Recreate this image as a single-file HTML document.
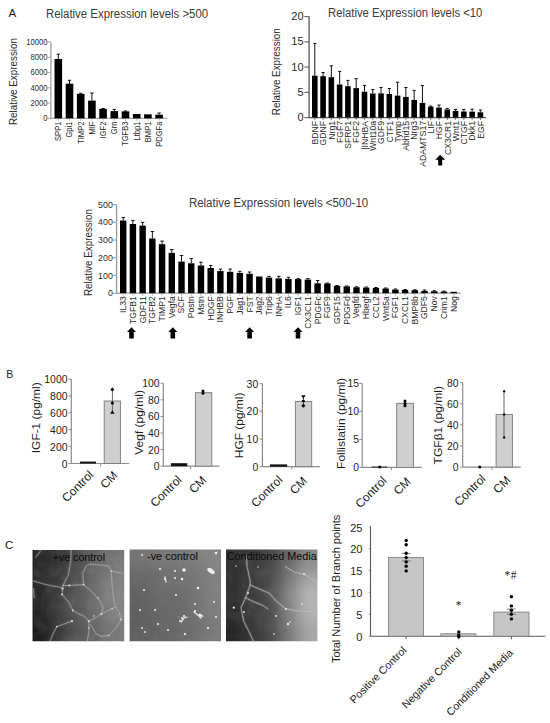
<!DOCTYPE html>
<html><head><meta charset="utf-8"><title>Figure</title>
<style>
html,body{margin:0;padding:0;background:#fff;}
body{width:550px;height:723px;overflow:hidden;position:relative;}
svg{position:absolute;left:0;top:0;display:block;}
text{font-family:"Liberation Sans", sans-serif;}
</style></head><body>
<svg width="550" height="723" viewBox="0 0 550 723">
<rect width="550" height="723" fill="#fff"/>
<text id="A" x="8.40" y="16.60" font-size="11.5" fill="#222" text-anchor="start">A</text>
<line x1="50.90" y1="41.90" x2="50.90" y2="118.40" stroke="#a8a8a8" stroke-width="1.4"/>
<line x1="50.20" y1="118.40" x2="166.90" y2="118.40" stroke="#a8a8a8" stroke-width="1.4"/>
<line x1="47.50" y1="118.40" x2="50.90" y2="118.40" stroke="#a8a8a8" stroke-width="1"/>
<text x="47.40" y="121.31" font-size="8.3" fill="#2a2a2a" text-anchor="end" textLength="4.25" lengthAdjust="spacingAndGlyphs">0</text>
<line x1="47.50" y1="103.10" x2="50.90" y2="103.10" stroke="#a8a8a8" stroke-width="1"/>
<text x="47.40" y="106.01" font-size="8.3" fill="#2a2a2a" text-anchor="end" textLength="16.99" lengthAdjust="spacingAndGlyphs">2000</text>
<line x1="47.50" y1="87.80" x2="50.90" y2="87.80" stroke="#a8a8a8" stroke-width="1"/>
<text x="47.40" y="90.71" font-size="8.3" fill="#2a2a2a" text-anchor="end" textLength="16.99" lengthAdjust="spacingAndGlyphs">4000</text>
<line x1="47.50" y1="72.50" x2="50.90" y2="72.50" stroke="#a8a8a8" stroke-width="1"/>
<text x="47.40" y="75.41" font-size="8.3" fill="#2a2a2a" text-anchor="end" textLength="16.99" lengthAdjust="spacingAndGlyphs">6000</text>
<line x1="47.50" y1="57.20" x2="50.90" y2="57.20" stroke="#a8a8a8" stroke-width="1"/>
<text x="47.40" y="60.11" font-size="8.3" fill="#2a2a2a" text-anchor="end" textLength="16.99" lengthAdjust="spacingAndGlyphs">8000</text>
<line x1="47.50" y1="41.90" x2="50.90" y2="41.90" stroke="#a8a8a8" stroke-width="1"/>
<text x="47.40" y="44.81" font-size="8.3" fill="#2a2a2a" text-anchor="end" textLength="21.23" lengthAdjust="spacingAndGlyphs">10000</text>
<line x1="58.30" y1="54.20" x2="58.30" y2="59.00" stroke="#111" stroke-width="1"/>
<line x1="56.60" y1="54.20" x2="60.00" y2="54.20" stroke="#111" stroke-width="1"/>
<rect x="54.50" y="59.00" width="7.60" height="59.40" fill="#000"/>
<line x1="58.30" y1="118.40" x2="58.30" y2="120.90" stroke="#a8a8a8" stroke-width="0.8"/>
<line x1="69.50" y1="80.30" x2="69.50" y2="83.70" stroke="#111" stroke-width="1"/>
<line x1="67.80" y1="80.30" x2="71.20" y2="80.30" stroke="#111" stroke-width="1"/>
<rect x="65.70" y="83.70" width="7.60" height="34.70" fill="#000"/>
<line x1="69.50" y1="118.40" x2="69.50" y2="120.90" stroke="#a8a8a8" stroke-width="0.8"/>
<line x1="80.70" y1="93.30" x2="80.70" y2="93.90" stroke="#111" stroke-width="1"/>
<line x1="79.00" y1="93.30" x2="82.40" y2="93.30" stroke="#111" stroke-width="1"/>
<rect x="76.90" y="93.90" width="7.60" height="24.50" fill="#000"/>
<line x1="80.70" y1="118.40" x2="80.70" y2="120.90" stroke="#a8a8a8" stroke-width="0.8"/>
<line x1="91.90" y1="93.00" x2="91.90" y2="100.60" stroke="#111" stroke-width="1"/>
<line x1="90.20" y1="93.00" x2="93.60" y2="93.00" stroke="#111" stroke-width="1"/>
<rect x="88.10" y="100.60" width="7.60" height="17.80" fill="#000"/>
<line x1="91.90" y1="118.40" x2="91.90" y2="120.90" stroke="#a8a8a8" stroke-width="0.8"/>
<line x1="103.10" y1="108.50" x2="103.10" y2="108.90" stroke="#111" stroke-width="1"/>
<line x1="101.40" y1="108.50" x2="104.80" y2="108.50" stroke="#111" stroke-width="1"/>
<rect x="99.30" y="108.90" width="7.60" height="9.50" fill="#000"/>
<line x1="103.10" y1="118.40" x2="103.10" y2="120.90" stroke="#a8a8a8" stroke-width="0.8"/>
<line x1="114.30" y1="109.40" x2="114.30" y2="111.10" stroke="#111" stroke-width="1"/>
<line x1="112.60" y1="109.40" x2="116.00" y2="109.40" stroke="#111" stroke-width="1"/>
<rect x="110.50" y="111.10" width="7.60" height="7.30" fill="#000"/>
<line x1="114.30" y1="118.40" x2="114.30" y2="120.90" stroke="#a8a8a8" stroke-width="0.8"/>
<line x1="125.50" y1="111.00" x2="125.50" y2="111.40" stroke="#111" stroke-width="1"/>
<line x1="123.80" y1="111.00" x2="127.20" y2="111.00" stroke="#111" stroke-width="1"/>
<rect x="121.70" y="111.40" width="7.60" height="7.00" fill="#000"/>
<line x1="125.50" y1="118.40" x2="125.50" y2="120.90" stroke="#a8a8a8" stroke-width="0.8"/>
<rect x="132.90" y="114.00" width="7.60" height="4.40" fill="#000"/>
<line x1="136.70" y1="118.40" x2="136.70" y2="120.90" stroke="#a8a8a8" stroke-width="0.8"/>
<rect x="144.10" y="114.30" width="7.60" height="4.10" fill="#000"/>
<line x1="147.90" y1="118.40" x2="147.90" y2="120.90" stroke="#a8a8a8" stroke-width="0.8"/>
<line x1="159.10" y1="113.00" x2="159.10" y2="114.70" stroke="#111" stroke-width="1"/>
<line x1="157.40" y1="113.00" x2="160.80" y2="113.00" stroke="#111" stroke-width="1"/>
<rect x="155.30" y="114.70" width="7.60" height="3.70" fill="#000"/>
<line x1="159.10" y1="118.40" x2="159.10" y2="120.90" stroke="#a8a8a8" stroke-width="0.8"/>
<text transform="translate(61.19,121.60) rotate(-90)" font-size="8.4" fill="#2a2a2a" text-anchor="end" textLength="19.33" lengthAdjust="spacingAndGlyphs">SPP1</text>
<text transform="translate(72.39,121.60) rotate(-90)" font-size="8.4" fill="#2a2a2a" text-anchor="end" textLength="15.97" lengthAdjust="spacingAndGlyphs">Gpi1</text>
<text transform="translate(83.59,121.60) rotate(-90)" font-size="8.4" fill="#2a2a2a" text-anchor="end" textLength="22.26" lengthAdjust="spacingAndGlyphs">TIMP2</text>
<text transform="translate(94.79,121.60) rotate(-90)" font-size="8.4" fill="#2a2a2a" text-anchor="end" textLength="13.02" lengthAdjust="spacingAndGlyphs">MIF</text>
<text transform="translate(105.99,121.60) rotate(-90)" font-size="8.4" fill="#2a2a2a" text-anchor="end" textLength="16.80" lengthAdjust="spacingAndGlyphs">IGF2</text>
<text transform="translate(117.19,121.60) rotate(-90)" font-size="8.4" fill="#2a2a2a" text-anchor="end" textLength="12.60" lengthAdjust="spacingAndGlyphs">Grn</text>
<text transform="translate(128.39,121.60) rotate(-90)" font-size="8.4" fill="#2a2a2a" text-anchor="end" textLength="24.36" lengthAdjust="spacingAndGlyphs">TGFB3</text>
<text transform="translate(139.59,121.60) rotate(-90)" font-size="8.4" fill="#2a2a2a" text-anchor="end" textLength="18.92" lengthAdjust="spacingAndGlyphs">Ltbp1</text>
<text transform="translate(150.79,121.60) rotate(-90)" font-size="8.4" fill="#2a2a2a" text-anchor="end" textLength="20.59" lengthAdjust="spacingAndGlyphs">BMP1</text>
<text transform="translate(161.99,121.60) rotate(-90)" font-size="8.4" fill="#2a2a2a" text-anchor="end" textLength="25.20" lengthAdjust="spacingAndGlyphs">PDGFa</text>
<text id="title1" x="45.90" y="18.00" font-size="12" fill="#3a3a3a" text-anchor="start" textLength="162.30" lengthAdjust="spacingAndGlyphs">Relative Expression levels &gt;500</text>
<text id="ylab1" transform="translate(17.10,81.50) rotate(-90)" font-size="10.4" fill="#2a2a2a" text-anchor="middle" textLength="87.00" lengthAdjust="spacingAndGlyphs">Relative Expression</text>
<line x1="309.10" y1="16.60" x2="309.10" y2="117.60" stroke="#555" stroke-width="1.3"/>
<line x1="308.45" y1="117.60" x2="486.00" y2="117.60" stroke="#555" stroke-width="1.3"/>
<line x1="304.30" y1="117.60" x2="309.10" y2="117.60" stroke="#555" stroke-width="1"/>
<text x="303.60" y="121.16" font-size="10.8" fill="#2a2a2a" text-anchor="end" textLength="6.13" lengthAdjust="spacingAndGlyphs">0</text>
<line x1="304.30" y1="92.35" x2="309.10" y2="92.35" stroke="#555" stroke-width="1"/>
<text x="303.60" y="95.91" font-size="10.8" fill="#2a2a2a" text-anchor="end" textLength="6.13" lengthAdjust="spacingAndGlyphs">5</text>
<line x1="304.30" y1="67.10" x2="309.10" y2="67.10" stroke="#555" stroke-width="1"/>
<text x="303.60" y="70.66" font-size="10.8" fill="#2a2a2a" text-anchor="end" textLength="12.25" lengthAdjust="spacingAndGlyphs">10</text>
<line x1="304.30" y1="41.85" x2="309.10" y2="41.85" stroke="#555" stroke-width="1"/>
<text x="303.60" y="45.41" font-size="10.8" fill="#2a2a2a" text-anchor="end" textLength="12.25" lengthAdjust="spacingAndGlyphs">15</text>
<line x1="304.30" y1="16.60" x2="309.10" y2="16.60" stroke="#555" stroke-width="1"/>
<text x="303.60" y="20.16" font-size="10.8" fill="#2a2a2a" text-anchor="end" textLength="12.25" lengthAdjust="spacingAndGlyphs">20</text>
<line x1="314.80" y1="43.40" x2="314.80" y2="75.70" stroke="#111" stroke-width="1"/>
<line x1="313.20" y1="43.40" x2="316.40" y2="43.40" stroke="#111" stroke-width="1"/>
<rect x="312.00" y="75.70" width="5.60" height="41.90" fill="#000"/>
<line x1="314.80" y1="117.60" x2="314.80" y2="120.10" stroke="#555" stroke-width="0.8"/>
<line x1="323.08" y1="72.50" x2="323.08" y2="76.20" stroke="#111" stroke-width="1"/>
<line x1="321.48" y1="72.50" x2="324.68" y2="72.50" stroke="#111" stroke-width="1"/>
<rect x="320.28" y="76.20" width="5.60" height="41.40" fill="#000"/>
<line x1="323.08" y1="117.60" x2="323.08" y2="120.10" stroke="#555" stroke-width="0.8"/>
<line x1="331.36" y1="65.80" x2="331.36" y2="77.20" stroke="#111" stroke-width="1"/>
<line x1="329.76" y1="65.80" x2="332.96" y2="65.80" stroke="#111" stroke-width="1"/>
<rect x="328.56" y="77.20" width="5.60" height="40.40" fill="#000"/>
<line x1="331.36" y1="117.60" x2="331.36" y2="120.10" stroke="#555" stroke-width="0.8"/>
<line x1="339.64" y1="71.40" x2="339.64" y2="84.50" stroke="#111" stroke-width="1"/>
<line x1="338.04" y1="71.40" x2="341.24" y2="71.40" stroke="#111" stroke-width="1"/>
<rect x="336.84" y="84.50" width="5.60" height="33.10" fill="#000"/>
<line x1="339.64" y1="117.60" x2="339.64" y2="120.10" stroke="#555" stroke-width="0.8"/>
<line x1="347.92" y1="80.40" x2="347.92" y2="86.20" stroke="#111" stroke-width="1"/>
<line x1="346.32" y1="80.40" x2="349.52" y2="80.40" stroke="#111" stroke-width="1"/>
<rect x="345.12" y="86.20" width="5.60" height="31.40" fill="#000"/>
<line x1="347.92" y1="117.60" x2="347.92" y2="120.10" stroke="#555" stroke-width="0.8"/>
<line x1="356.20" y1="78.60" x2="356.20" y2="88.10" stroke="#111" stroke-width="1"/>
<line x1="354.60" y1="78.60" x2="357.80" y2="78.60" stroke="#111" stroke-width="1"/>
<rect x="353.40" y="88.10" width="5.60" height="29.50" fill="#000"/>
<line x1="356.20" y1="117.60" x2="356.20" y2="120.10" stroke="#555" stroke-width="0.8"/>
<line x1="364.48" y1="85.30" x2="364.48" y2="91.70" stroke="#111" stroke-width="1"/>
<line x1="362.88" y1="85.30" x2="366.08" y2="85.30" stroke="#111" stroke-width="1"/>
<rect x="361.68" y="91.70" width="5.60" height="25.90" fill="#000"/>
<line x1="364.48" y1="117.60" x2="364.48" y2="120.10" stroke="#555" stroke-width="0.8"/>
<line x1="372.76" y1="89.50" x2="372.76" y2="93.50" stroke="#111" stroke-width="1"/>
<line x1="371.16" y1="89.50" x2="374.36" y2="89.50" stroke="#111" stroke-width="1"/>
<rect x="369.96" y="93.50" width="5.60" height="24.10" fill="#000"/>
<line x1="372.76" y1="117.60" x2="372.76" y2="120.10" stroke="#555" stroke-width="0.8"/>
<line x1="381.04" y1="87.50" x2="381.04" y2="93.40" stroke="#111" stroke-width="1"/>
<line x1="379.44" y1="87.50" x2="382.64" y2="87.50" stroke="#111" stroke-width="1"/>
<rect x="378.24" y="93.40" width="5.60" height="24.20" fill="#000"/>
<line x1="381.04" y1="117.60" x2="381.04" y2="120.10" stroke="#555" stroke-width="0.8"/>
<line x1="389.32" y1="88.50" x2="389.32" y2="94.00" stroke="#111" stroke-width="1"/>
<line x1="387.72" y1="88.50" x2="390.92" y2="88.50" stroke="#111" stroke-width="1"/>
<rect x="386.52" y="94.00" width="5.60" height="23.60" fill="#000"/>
<line x1="389.32" y1="117.60" x2="389.32" y2="120.10" stroke="#555" stroke-width="0.8"/>
<line x1="397.60" y1="82.20" x2="397.60" y2="95.60" stroke="#111" stroke-width="1"/>
<line x1="396.00" y1="82.20" x2="399.20" y2="82.20" stroke="#111" stroke-width="1"/>
<rect x="394.80" y="95.60" width="5.60" height="22.00" fill="#000"/>
<line x1="397.60" y1="117.60" x2="397.60" y2="120.10" stroke="#555" stroke-width="0.8"/>
<line x1="405.88" y1="87.50" x2="405.88" y2="96.90" stroke="#111" stroke-width="1"/>
<line x1="404.28" y1="87.50" x2="407.48" y2="87.50" stroke="#111" stroke-width="1"/>
<rect x="403.08" y="96.90" width="5.60" height="20.70" fill="#000"/>
<line x1="405.88" y1="117.60" x2="405.88" y2="120.10" stroke="#555" stroke-width="0.8"/>
<line x1="414.16" y1="90.40" x2="414.16" y2="100.00" stroke="#111" stroke-width="1"/>
<line x1="412.56" y1="90.40" x2="415.76" y2="90.40" stroke="#111" stroke-width="1"/>
<rect x="411.36" y="100.00" width="5.60" height="17.60" fill="#000"/>
<line x1="414.16" y1="117.60" x2="414.16" y2="120.10" stroke="#555" stroke-width="0.8"/>
<line x1="422.44" y1="85.60" x2="422.44" y2="102.90" stroke="#111" stroke-width="1"/>
<line x1="420.84" y1="85.60" x2="424.04" y2="85.60" stroke="#111" stroke-width="1"/>
<rect x="419.64" y="102.90" width="5.60" height="14.70" fill="#000"/>
<line x1="422.44" y1="117.60" x2="422.44" y2="120.10" stroke="#555" stroke-width="0.8"/>
<line x1="430.72" y1="106.00" x2="430.72" y2="106.70" stroke="#111" stroke-width="1"/>
<line x1="429.12" y1="106.00" x2="432.32" y2="106.00" stroke="#111" stroke-width="1"/>
<rect x="427.92" y="106.70" width="5.60" height="10.90" fill="#000"/>
<line x1="430.72" y1="117.60" x2="430.72" y2="120.10" stroke="#555" stroke-width="0.8"/>
<line x1="439.00" y1="105.10" x2="439.00" y2="107.60" stroke="#111" stroke-width="1"/>
<line x1="437.40" y1="105.10" x2="440.60" y2="105.10" stroke="#111" stroke-width="1"/>
<rect x="436.20" y="107.60" width="5.60" height="10.00" fill="#000"/>
<line x1="439.00" y1="117.60" x2="439.00" y2="120.10" stroke="#555" stroke-width="0.8"/>
<line x1="447.28" y1="108.40" x2="447.28" y2="109.50" stroke="#111" stroke-width="1"/>
<line x1="445.68" y1="108.40" x2="448.88" y2="108.40" stroke="#111" stroke-width="1"/>
<rect x="444.48" y="109.50" width="5.60" height="8.10" fill="#000"/>
<line x1="447.28" y1="117.60" x2="447.28" y2="120.10" stroke="#555" stroke-width="0.8"/>
<line x1="455.56" y1="109.50" x2="455.56" y2="110.90" stroke="#111" stroke-width="1"/>
<line x1="453.96" y1="109.50" x2="457.16" y2="109.50" stroke="#111" stroke-width="1"/>
<rect x="452.76" y="110.90" width="5.60" height="6.70" fill="#000"/>
<line x1="455.56" y1="117.60" x2="455.56" y2="120.10" stroke="#555" stroke-width="0.8"/>
<line x1="463.84" y1="109.40" x2="463.84" y2="111.50" stroke="#111" stroke-width="1"/>
<line x1="462.24" y1="109.40" x2="465.44" y2="109.40" stroke="#111" stroke-width="1"/>
<rect x="461.04" y="111.50" width="5.60" height="6.10" fill="#000"/>
<line x1="463.84" y1="117.60" x2="463.84" y2="120.10" stroke="#555" stroke-width="0.8"/>
<line x1="472.12" y1="109.20" x2="472.12" y2="111.70" stroke="#111" stroke-width="1"/>
<line x1="470.52" y1="109.20" x2="473.72" y2="109.20" stroke="#111" stroke-width="1"/>
<rect x="469.32" y="111.70" width="5.60" height="5.90" fill="#000"/>
<line x1="472.12" y1="117.60" x2="472.12" y2="120.10" stroke="#555" stroke-width="0.8"/>
<line x1="480.40" y1="110.00" x2="480.40" y2="112.30" stroke="#111" stroke-width="1"/>
<line x1="478.80" y1="110.00" x2="482.00" y2="110.00" stroke="#111" stroke-width="1"/>
<rect x="477.60" y="112.30" width="5.60" height="5.30" fill="#000"/>
<line x1="480.40" y1="117.60" x2="480.40" y2="120.10" stroke="#555" stroke-width="0.8"/>
<text transform="translate(318.03,121.00) rotate(-90)" font-size="9.4" fill="#2a2a2a" text-anchor="end" textLength="23.54" lengthAdjust="spacingAndGlyphs">BDNF</text>
<text transform="translate(326.31,121.00) rotate(-90)" font-size="9.4" fill="#2a2a2a" text-anchor="end" textLength="24.50" lengthAdjust="spacingAndGlyphs">GDNF</text>
<text transform="translate(334.59,121.00) rotate(-90)" font-size="9.4" fill="#2a2a2a" text-anchor="end" textLength="18.74" lengthAdjust="spacingAndGlyphs">Nrg1</text>
<text transform="translate(342.87,121.00) rotate(-90)" font-size="9.4" fill="#2a2a2a" text-anchor="end" textLength="22.10" lengthAdjust="spacingAndGlyphs">FGF7</text>
<text transform="translate(351.15,121.00) rotate(-90)" font-size="9.4" fill="#2a2a2a" text-anchor="end" textLength="27.87" lengthAdjust="spacingAndGlyphs">SFRP1</text>
<text transform="translate(359.43,121.00) rotate(-90)" font-size="9.4" fill="#2a2a2a" text-anchor="end" textLength="22.10" lengthAdjust="spacingAndGlyphs">FGF2</text>
<text transform="translate(367.71,121.00) rotate(-90)" font-size="9.4" fill="#2a2a2a" text-anchor="end" textLength="28.68" lengthAdjust="spacingAndGlyphs">|INHBA</text>
<text transform="translate(375.99,121.00) rotate(-90)" font-size="9.4" fill="#2a2a2a" text-anchor="end" textLength="29.80" lengthAdjust="spacingAndGlyphs">Wnt10a</text>
<text transform="translate(384.27,121.00) rotate(-90)" font-size="9.4" fill="#2a2a2a" text-anchor="end" textLength="23.06" lengthAdjust="spacingAndGlyphs">GDF9</text>
<text transform="translate(392.55,121.00) rotate(-90)" font-size="9.4" fill="#2a2a2a" text-anchor="end" textLength="21.62" lengthAdjust="spacingAndGlyphs">CTF1</text>
<text transform="translate(400.83,121.00) rotate(-90)" font-size="9.4" fill="#2a2a2a" text-anchor="end" textLength="21.62" lengthAdjust="spacingAndGlyphs">Tymp</text>
<text transform="translate(409.11,121.00) rotate(-90)" font-size="9.4" fill="#2a2a2a" text-anchor="end" textLength="29.82" lengthAdjust="spacingAndGlyphs">Abhd15</text>
<text transform="translate(417.39,121.00) rotate(-90)" font-size="9.4" fill="#2a2a2a" text-anchor="end" textLength="18.74" lengthAdjust="spacingAndGlyphs">Nrg3</text>
<text transform="translate(425.67,121.00) rotate(-90)" font-size="9.4" fill="#2a2a2a" text-anchor="end" textLength="45.66" lengthAdjust="spacingAndGlyphs">ADAMTS17</text>
<text transform="translate(433.95,121.00) rotate(-90)" font-size="9.4" fill="#2a2a2a" text-anchor="end" textLength="12.49" lengthAdjust="spacingAndGlyphs">LIF</text>
<text transform="translate(442.23,121.00) rotate(-90)" font-size="9.4" fill="#2a2a2a" text-anchor="end" textLength="18.25" lengthAdjust="spacingAndGlyphs">HGF</text>
<text transform="translate(450.51,121.00) rotate(-90)" font-size="9.4" fill="#2a2a2a" text-anchor="end" textLength="34.12" lengthAdjust="spacingAndGlyphs">CX3CR1</text>
<text transform="translate(458.79,121.00) rotate(-90)" font-size="9.4" fill="#2a2a2a" text-anchor="end" textLength="20.18" lengthAdjust="spacingAndGlyphs">Wnt1</text>
<text transform="translate(467.07,121.00) rotate(-90)" font-size="9.4" fill="#2a2a2a" text-anchor="end" textLength="23.54" lengthAdjust="spacingAndGlyphs">CTGF</text>
<text transform="translate(475.35,121.00) rotate(-90)" font-size="9.4" fill="#2a2a2a" text-anchor="end" textLength="19.70" lengthAdjust="spacingAndGlyphs">Dkk1</text>
<text transform="translate(483.63,121.00) rotate(-90)" font-size="9.4" fill="#2a2a2a" text-anchor="end" textLength="17.78" lengthAdjust="spacingAndGlyphs">EGF</text>
<text id="title2" x="328.00" y="17.40" font-size="12" fill="#3a3a3a" text-anchor="start" textLength="154.40" lengthAdjust="spacingAndGlyphs">Relative Expression levels &lt;10</text>
<text id="ylab2" transform="translate(280.40,71.70) rotate(-90)" font-size="10.4" fill="#2a2a2a" text-anchor="middle" textLength="87.00" lengthAdjust="spacingAndGlyphs">Relative Expression</text>
<polygon points="440.20,154.70 445.20,159.80 442.20,159.80 442.20,165.60 438.20,165.60 438.20,159.80 435.20,159.80" fill="#000"/>
<line x1="116.60" y1="204.50" x2="116.60" y2="293.20" stroke="#999" stroke-width="1.3"/>
<line x1="115.95" y1="293.20" x2="460.50" y2="293.20" stroke="#999" stroke-width="1.3"/>
<line x1="113.00" y1="293.30" x2="116.60" y2="293.30" stroke="#999" stroke-width="1"/>
<text x="112.80" y="296.38" font-size="8.8" fill="#2a2a2a" text-anchor="end">0</text>
<line x1="113.00" y1="275.54" x2="116.60" y2="275.54" stroke="#999" stroke-width="1"/>
<text x="112.80" y="278.62" font-size="8.8" fill="#2a2a2a" text-anchor="end">100</text>
<line x1="113.00" y1="257.78" x2="116.60" y2="257.78" stroke="#999" stroke-width="1"/>
<text x="112.80" y="260.86" font-size="8.8" fill="#2a2a2a" text-anchor="end">200</text>
<line x1="113.00" y1="240.02" x2="116.60" y2="240.02" stroke="#999" stroke-width="1"/>
<text x="112.80" y="243.10" font-size="8.8" fill="#2a2a2a" text-anchor="end">300</text>
<line x1="113.00" y1="222.26" x2="116.60" y2="222.26" stroke="#999" stroke-width="1"/>
<text x="112.80" y="225.34" font-size="8.8" fill="#2a2a2a" text-anchor="end">400</text>
<line x1="113.00" y1="204.50" x2="116.60" y2="204.50" stroke="#999" stroke-width="1"/>
<text x="112.80" y="207.58" font-size="8.8" fill="#2a2a2a" text-anchor="end">500</text>
<line x1="123.20" y1="217.60" x2="123.20" y2="220.50" stroke="#111" stroke-width="1"/>
<line x1="121.50" y1="217.60" x2="124.90" y2="217.60" stroke="#111" stroke-width="1"/>
<rect x="120.00" y="220.50" width="6.40" height="72.70" fill="#000"/>
<line x1="123.20" y1="293.20" x2="123.20" y2="295.70" stroke="#999" stroke-width="0.8"/>
<line x1="132.92" y1="220.40" x2="132.92" y2="224.00" stroke="#111" stroke-width="1"/>
<line x1="131.22" y1="220.40" x2="134.62" y2="220.40" stroke="#111" stroke-width="1"/>
<rect x="129.72" y="224.00" width="6.40" height="69.20" fill="#000"/>
<line x1="132.92" y1="293.20" x2="132.92" y2="295.70" stroke="#999" stroke-width="0.8"/>
<line x1="142.64" y1="222.40" x2="142.64" y2="225.60" stroke="#111" stroke-width="1"/>
<line x1="140.94" y1="222.40" x2="144.34" y2="222.40" stroke="#111" stroke-width="1"/>
<rect x="139.44" y="225.60" width="6.40" height="67.60" fill="#000"/>
<line x1="142.64" y1="293.20" x2="142.64" y2="295.70" stroke="#999" stroke-width="0.8"/>
<line x1="152.36" y1="231.50" x2="152.36" y2="238.50" stroke="#111" stroke-width="1"/>
<line x1="150.66" y1="231.50" x2="154.06" y2="231.50" stroke="#111" stroke-width="1"/>
<rect x="149.16" y="238.50" width="6.40" height="54.70" fill="#000"/>
<line x1="152.36" y1="293.20" x2="152.36" y2="295.70" stroke="#999" stroke-width="0.8"/>
<line x1="162.08" y1="241.10" x2="162.08" y2="244.20" stroke="#111" stroke-width="1"/>
<line x1="160.38" y1="241.10" x2="163.78" y2="241.10" stroke="#111" stroke-width="1"/>
<rect x="158.88" y="244.20" width="6.40" height="49.00" fill="#000"/>
<line x1="162.08" y1="293.20" x2="162.08" y2="295.70" stroke="#999" stroke-width="0.8"/>
<line x1="171.80" y1="249.50" x2="171.80" y2="252.90" stroke="#111" stroke-width="1"/>
<line x1="170.10" y1="249.50" x2="173.50" y2="249.50" stroke="#111" stroke-width="1"/>
<rect x="168.60" y="252.90" width="6.40" height="40.30" fill="#000"/>
<line x1="171.80" y1="293.20" x2="171.80" y2="295.70" stroke="#999" stroke-width="0.8"/>
<line x1="181.52" y1="255.50" x2="181.52" y2="261.60" stroke="#111" stroke-width="1"/>
<line x1="179.82" y1="255.50" x2="183.22" y2="255.50" stroke="#111" stroke-width="1"/>
<rect x="178.32" y="261.60" width="6.40" height="31.60" fill="#000"/>
<line x1="181.52" y1="293.20" x2="181.52" y2="295.70" stroke="#999" stroke-width="0.8"/>
<line x1="191.24" y1="258.50" x2="191.24" y2="263.30" stroke="#111" stroke-width="1"/>
<line x1="189.54" y1="258.50" x2="192.94" y2="258.50" stroke="#111" stroke-width="1"/>
<rect x="188.04" y="263.30" width="6.40" height="29.90" fill="#000"/>
<line x1="191.24" y1="293.20" x2="191.24" y2="295.70" stroke="#999" stroke-width="0.8"/>
<line x1="200.96" y1="262.20" x2="200.96" y2="265.50" stroke="#111" stroke-width="1"/>
<line x1="199.26" y1="262.20" x2="202.66" y2="262.20" stroke="#111" stroke-width="1"/>
<rect x="197.76" y="265.50" width="6.40" height="27.70" fill="#000"/>
<line x1="200.96" y1="293.20" x2="200.96" y2="295.70" stroke="#999" stroke-width="0.8"/>
<line x1="210.68" y1="265.50" x2="210.68" y2="268.00" stroke="#111" stroke-width="1"/>
<line x1="208.98" y1="265.50" x2="212.38" y2="265.50" stroke="#111" stroke-width="1"/>
<rect x="207.48" y="268.00" width="6.40" height="25.20" fill="#000"/>
<line x1="210.68" y1="293.20" x2="210.68" y2="295.70" stroke="#999" stroke-width="0.8"/>
<line x1="220.40" y1="269.10" x2="220.40" y2="271.10" stroke="#111" stroke-width="1"/>
<line x1="218.70" y1="269.10" x2="222.10" y2="269.10" stroke="#111" stroke-width="1"/>
<rect x="217.20" y="271.10" width="6.40" height="22.10" fill="#000"/>
<line x1="220.40" y1="293.20" x2="220.40" y2="295.70" stroke="#999" stroke-width="0.8"/>
<line x1="230.12" y1="269.10" x2="230.12" y2="271.80" stroke="#111" stroke-width="1"/>
<line x1="228.42" y1="269.10" x2="231.82" y2="269.10" stroke="#111" stroke-width="1"/>
<rect x="226.92" y="271.80" width="6.40" height="21.40" fill="#000"/>
<line x1="230.12" y1="293.20" x2="230.12" y2="295.70" stroke="#999" stroke-width="0.8"/>
<line x1="239.84" y1="271.30" x2="239.84" y2="272.90" stroke="#111" stroke-width="1"/>
<line x1="238.14" y1="271.30" x2="241.54" y2="271.30" stroke="#111" stroke-width="1"/>
<rect x="236.64" y="272.90" width="6.40" height="20.30" fill="#000"/>
<line x1="239.84" y1="293.20" x2="239.84" y2="295.70" stroke="#999" stroke-width="0.8"/>
<line x1="249.56" y1="272.00" x2="249.56" y2="273.80" stroke="#111" stroke-width="1"/>
<line x1="247.86" y1="272.00" x2="251.26" y2="272.00" stroke="#111" stroke-width="1"/>
<rect x="246.36" y="273.80" width="6.40" height="19.40" fill="#000"/>
<line x1="249.56" y1="293.20" x2="249.56" y2="295.70" stroke="#999" stroke-width="0.8"/>
<rect x="256.08" y="276.50" width="6.40" height="16.70" fill="#000"/>
<line x1="259.28" y1="293.20" x2="259.28" y2="295.70" stroke="#999" stroke-width="0.8"/>
<line x1="269.00" y1="276.40" x2="269.00" y2="277.60" stroke="#111" stroke-width="1"/>
<line x1="267.30" y1="276.40" x2="270.70" y2="276.40" stroke="#111" stroke-width="1"/>
<rect x="265.80" y="277.60" width="6.40" height="15.60" fill="#000"/>
<line x1="269.00" y1="293.20" x2="269.00" y2="295.70" stroke="#999" stroke-width="0.8"/>
<line x1="278.72" y1="276.40" x2="278.72" y2="278.40" stroke="#111" stroke-width="1"/>
<line x1="277.02" y1="276.40" x2="280.42" y2="276.40" stroke="#111" stroke-width="1"/>
<rect x="275.52" y="278.40" width="6.40" height="14.80" fill="#000"/>
<line x1="278.72" y1="293.20" x2="278.72" y2="295.70" stroke="#999" stroke-width="0.8"/>
<line x1="288.44" y1="277.30" x2="288.44" y2="278.90" stroke="#111" stroke-width="1"/>
<line x1="286.74" y1="277.30" x2="290.14" y2="277.30" stroke="#111" stroke-width="1"/>
<rect x="285.24" y="278.90" width="6.40" height="14.30" fill="#000"/>
<line x1="288.44" y1="293.20" x2="288.44" y2="295.70" stroke="#999" stroke-width="0.8"/>
<line x1="298.16" y1="278.70" x2="298.16" y2="279.10" stroke="#111" stroke-width="1"/>
<line x1="296.46" y1="278.70" x2="299.86" y2="278.70" stroke="#111" stroke-width="1"/>
<rect x="294.96" y="279.10" width="6.40" height="14.10" fill="#000"/>
<line x1="298.16" y1="293.20" x2="298.16" y2="295.70" stroke="#999" stroke-width="0.8"/>
<line x1="307.88" y1="278.70" x2="307.88" y2="279.60" stroke="#111" stroke-width="1"/>
<line x1="306.18" y1="278.70" x2="309.58" y2="278.70" stroke="#111" stroke-width="1"/>
<rect x="304.68" y="279.60" width="6.40" height="13.60" fill="#000"/>
<line x1="307.88" y1="293.20" x2="307.88" y2="295.70" stroke="#999" stroke-width="0.8"/>
<line x1="317.60" y1="280.50" x2="317.60" y2="283.30" stroke="#111" stroke-width="1"/>
<line x1="315.90" y1="280.50" x2="319.30" y2="280.50" stroke="#111" stroke-width="1"/>
<rect x="314.40" y="283.30" width="6.40" height="9.90" fill="#000"/>
<line x1="317.60" y1="293.20" x2="317.60" y2="295.70" stroke="#999" stroke-width="0.8"/>
<line x1="327.32" y1="283.00" x2="327.32" y2="283.50" stroke="#111" stroke-width="1"/>
<line x1="325.62" y1="283.00" x2="329.02" y2="283.00" stroke="#111" stroke-width="1"/>
<rect x="324.12" y="283.50" width="6.40" height="9.70" fill="#000"/>
<line x1="327.32" y1="293.20" x2="327.32" y2="295.70" stroke="#999" stroke-width="0.8"/>
<line x1="337.04" y1="285.50" x2="337.04" y2="286.00" stroke="#111" stroke-width="1"/>
<line x1="335.34" y1="285.50" x2="338.74" y2="285.50" stroke="#111" stroke-width="1"/>
<rect x="333.84" y="286.00" width="6.40" height="7.20" fill="#000"/>
<line x1="337.04" y1="293.20" x2="337.04" y2="295.70" stroke="#999" stroke-width="0.8"/>
<line x1="346.76" y1="286.00" x2="346.76" y2="286.40" stroke="#111" stroke-width="1"/>
<line x1="345.06" y1="286.00" x2="348.46" y2="286.00" stroke="#111" stroke-width="1"/>
<rect x="343.56" y="286.40" width="6.40" height="6.80" fill="#000"/>
<line x1="346.76" y1="293.20" x2="346.76" y2="295.70" stroke="#999" stroke-width="0.8"/>
<line x1="356.48" y1="286.80" x2="356.48" y2="287.30" stroke="#111" stroke-width="1"/>
<line x1="354.78" y1="286.80" x2="358.18" y2="286.80" stroke="#111" stroke-width="1"/>
<rect x="353.28" y="287.30" width="6.40" height="5.90" fill="#000"/>
<line x1="356.48" y1="293.20" x2="356.48" y2="295.70" stroke="#999" stroke-width="0.8"/>
<line x1="366.20" y1="287.00" x2="366.20" y2="287.60" stroke="#111" stroke-width="1"/>
<line x1="364.50" y1="287.00" x2="367.90" y2="287.00" stroke="#111" stroke-width="1"/>
<rect x="363.00" y="287.60" width="6.40" height="5.60" fill="#000"/>
<line x1="366.20" y1="293.20" x2="366.20" y2="295.70" stroke="#999" stroke-width="0.8"/>
<line x1="375.92" y1="287.50" x2="375.92" y2="288.00" stroke="#111" stroke-width="1"/>
<line x1="374.22" y1="287.50" x2="377.62" y2="287.50" stroke="#111" stroke-width="1"/>
<rect x="372.72" y="288.00" width="6.40" height="5.20" fill="#000"/>
<line x1="375.92" y1="293.20" x2="375.92" y2="295.70" stroke="#999" stroke-width="0.8"/>
<line x1="385.64" y1="288.00" x2="385.64" y2="288.50" stroke="#111" stroke-width="1"/>
<line x1="383.94" y1="288.00" x2="387.34" y2="288.00" stroke="#111" stroke-width="1"/>
<rect x="382.44" y="288.50" width="6.40" height="4.70" fill="#000"/>
<line x1="385.64" y1="293.20" x2="385.64" y2="295.70" stroke="#999" stroke-width="0.8"/>
<line x1="395.36" y1="289.00" x2="395.36" y2="289.60" stroke="#111" stroke-width="1"/>
<line x1="393.66" y1="289.00" x2="397.06" y2="289.00" stroke="#111" stroke-width="1"/>
<rect x="392.16" y="289.60" width="6.40" height="3.60" fill="#000"/>
<line x1="395.36" y1="293.20" x2="395.36" y2="295.70" stroke="#999" stroke-width="0.8"/>
<line x1="405.08" y1="289.50" x2="405.08" y2="290.00" stroke="#111" stroke-width="1"/>
<line x1="403.38" y1="289.50" x2="406.78" y2="289.50" stroke="#111" stroke-width="1"/>
<rect x="401.88" y="290.00" width="6.40" height="3.20" fill="#000"/>
<line x1="405.08" y1="293.20" x2="405.08" y2="295.70" stroke="#999" stroke-width="0.8"/>
<line x1="414.80" y1="289.80" x2="414.80" y2="290.20" stroke="#111" stroke-width="1"/>
<line x1="413.10" y1="289.80" x2="416.50" y2="289.80" stroke="#111" stroke-width="1"/>
<rect x="411.60" y="290.20" width="6.40" height="3.00" fill="#000"/>
<line x1="414.80" y1="293.20" x2="414.80" y2="295.70" stroke="#999" stroke-width="0.8"/>
<line x1="424.52" y1="290.00" x2="424.52" y2="290.90" stroke="#111" stroke-width="1"/>
<line x1="422.82" y1="290.00" x2="426.22" y2="290.00" stroke="#111" stroke-width="1"/>
<rect x="421.32" y="290.90" width="6.40" height="2.30" fill="#000"/>
<line x1="424.52" y1="293.20" x2="424.52" y2="295.70" stroke="#999" stroke-width="0.8"/>
<line x1="434.24" y1="290.80" x2="434.24" y2="291.30" stroke="#111" stroke-width="1"/>
<line x1="432.54" y1="290.80" x2="435.94" y2="290.80" stroke="#111" stroke-width="1"/>
<rect x="431.04" y="291.30" width="6.40" height="1.90" fill="#000"/>
<line x1="434.24" y1="293.20" x2="434.24" y2="295.70" stroke="#999" stroke-width="0.8"/>
<line x1="443.96" y1="291.20" x2="443.96" y2="291.60" stroke="#111" stroke-width="1"/>
<line x1="442.26" y1="291.20" x2="445.66" y2="291.20" stroke="#111" stroke-width="1"/>
<rect x="440.76" y="291.60" width="6.40" height="1.60" fill="#000"/>
<line x1="443.96" y1="293.20" x2="443.96" y2="295.70" stroke="#999" stroke-width="0.8"/>
<rect x="450.48" y="291.80" width="6.40" height="1.40" fill="#000"/>
<line x1="453.68" y1="293.20" x2="453.68" y2="295.70" stroke="#999" stroke-width="0.8"/>
<text transform="translate(126.16,296.20) rotate(-90)" font-size="8.6" fill="#2a2a2a" text-anchor="end">IL33</text>
<text transform="translate(135.88,296.20) rotate(-90)" font-size="8.6" fill="#2a2a2a" text-anchor="end">TGFB1</text>
<text transform="translate(145.60,296.20) rotate(-90)" font-size="8.6" fill="#2a2a2a" text-anchor="end">GDF11</text>
<text transform="translate(155.32,296.20) rotate(-90)" font-size="8.6" fill="#2a2a2a" text-anchor="end">TGFB2</text>
<text transform="translate(165.04,296.20) rotate(-90)" font-size="8.6" fill="#2a2a2a" text-anchor="end">TIMP1</text>
<text transform="translate(174.76,296.20) rotate(-90)" font-size="8.6" fill="#2a2a2a" text-anchor="end">Vegfa</text>
<text transform="translate(184.48,296.20) rotate(-90)" font-size="8.6" fill="#2a2a2a" text-anchor="end">SCF</text>
<text transform="translate(194.20,296.20) rotate(-90)" font-size="8.6" fill="#2a2a2a" text-anchor="end">Postn</text>
<text transform="translate(203.92,296.20) rotate(-90)" font-size="8.6" fill="#2a2a2a" text-anchor="end">Mstn</text>
<text transform="translate(213.64,296.20) rotate(-90)" font-size="8.6" fill="#2a2a2a" text-anchor="end">HDGF</text>
<text transform="translate(223.36,296.20) rotate(-90)" font-size="8.6" fill="#2a2a2a" text-anchor="end">INHBB</text>
<text transform="translate(233.08,296.20) rotate(-90)" font-size="8.6" fill="#2a2a2a" text-anchor="end">PGF</text>
<text transform="translate(242.80,296.20) rotate(-90)" font-size="8.6" fill="#2a2a2a" text-anchor="end">Jag1</text>
<text transform="translate(252.52,296.20) rotate(-90)" font-size="8.6" fill="#2a2a2a" text-anchor="end">FST</text>
<text transform="translate(262.24,296.20) rotate(-90)" font-size="8.6" fill="#2a2a2a" text-anchor="end">Jag2</text>
<text transform="translate(271.96,296.20) rotate(-90)" font-size="8.6" fill="#2a2a2a" text-anchor="end">Trip6</text>
<text transform="translate(281.68,296.20) rotate(-90)" font-size="8.6" fill="#2a2a2a" text-anchor="end">INHA</text>
<text transform="translate(291.40,296.20) rotate(-90)" font-size="8.6" fill="#2a2a2a" text-anchor="end">IL6</text>
<text transform="translate(301.12,296.20) rotate(-90)" font-size="8.6" fill="#2a2a2a" text-anchor="end">IGF1</text>
<text transform="translate(310.84,296.20) rotate(-90)" font-size="8.6" fill="#2a2a2a" text-anchor="end">CX3CL1</text>
<text transform="translate(320.56,296.20) rotate(-90)" font-size="8.6" fill="#2a2a2a" text-anchor="end">PDGFc</text>
<text transform="translate(330.28,296.20) rotate(-90)" font-size="8.6" fill="#2a2a2a" text-anchor="end">FGF9</text>
<text transform="translate(340.00,296.20) rotate(-90)" font-size="8.6" fill="#2a2a2a" text-anchor="end">GDF15</text>
<text transform="translate(349.72,296.20) rotate(-90)" font-size="8.6" fill="#2a2a2a" text-anchor="end">PDGFd</text>
<text transform="translate(359.44,296.20) rotate(-90)" font-size="8.6" fill="#2a2a2a" text-anchor="end">Vegfd</text>
<text transform="translate(369.16,296.20) rotate(-90)" font-size="8.6" fill="#2a2a2a" text-anchor="end">Hbegf</text>
<text transform="translate(378.88,296.20) rotate(-90)" font-size="8.6" fill="#2a2a2a" text-anchor="end">CCL2</text>
<text transform="translate(388.60,296.20) rotate(-90)" font-size="8.6" fill="#2a2a2a" text-anchor="end">Wnt5a</text>
<text transform="translate(398.32,296.20) rotate(-90)" font-size="8.6" fill="#2a2a2a" text-anchor="end">FGF1</text>
<text transform="translate(408.04,296.20) rotate(-90)" font-size="8.6" fill="#2a2a2a" text-anchor="end">CXCL1</text>
<text transform="translate(417.76,296.20) rotate(-90)" font-size="8.6" fill="#2a2a2a" text-anchor="end">BMP8b</text>
<text transform="translate(427.48,296.20) rotate(-90)" font-size="8.6" fill="#2a2a2a" text-anchor="end">GDF5</text>
<text transform="translate(437.20,296.20) rotate(-90)" font-size="8.6" fill="#2a2a2a" text-anchor="end">Nov</text>
<text transform="translate(446.92,296.20) rotate(-90)" font-size="8.6" fill="#2a2a2a" text-anchor="end">Crim1</text>
<text transform="translate(456.64,296.20) rotate(-90)" font-size="8.6" fill="#2a2a2a" text-anchor="end">Nog</text>
<text id="title3" x="188.90" y="206.90" font-size="12" fill="#3a3a3a" text-anchor="start" textLength="179.30" lengthAdjust="spacingAndGlyphs">Relative Expression levels &lt;500-10</text>
<text id="ylab3" transform="translate(92.00,252.60) rotate(-90)" font-size="10.4" fill="#2a2a2a" text-anchor="middle" textLength="87.00" lengthAdjust="spacingAndGlyphs">Relative Expression</text>
<polygon points="131.50,327.30 136.00,332.00 133.80,332.00 133.80,338.50 129.20,338.50 129.20,332.00 127.00,332.00" fill="#000"/>
<polygon points="172.80,327.30 177.30,332.00 175.10,332.00 175.10,338.50 170.50,338.50 170.50,332.00 168.30,332.00" fill="#000"/>
<polygon points="249.60,327.30 254.10,332.00 251.90,332.00 251.90,338.50 247.30,338.50 247.30,332.00 245.10,332.00" fill="#000"/>
<polygon points="298.00,327.30 302.50,332.00 300.30,332.00 300.30,338.50 295.70,338.50 295.70,332.00 293.50,332.00" fill="#000"/>
<text id="B" x="6.20" y="377.60" font-size="10.5" fill="#222" text-anchor="start">B</text>
<line x1="71.30" y1="379.00" x2="71.30" y2="463.50" stroke="#8a8a8a" stroke-width="1.2"/>
<line x1="71.30" y1="463.50" x2="129.10" y2="463.50" stroke="#8a8a8a" stroke-width="1.2"/>
<line x1="68.50" y1="463.50" x2="71.30" y2="463.50" stroke="#8a8a8a" stroke-width="1"/>
<text x="67.50" y="467.50" font-size="11.2" fill="#1e1e1e" text-anchor="end" textLength="5.79" lengthAdjust="spacingAndGlyphs">0</text>
<line x1="68.50" y1="446.60" x2="71.30" y2="446.60" stroke="#8a8a8a" stroke-width="1"/>
<text x="67.50" y="450.60" font-size="11.2" fill="#1e1e1e" text-anchor="end" textLength="17.38" lengthAdjust="spacingAndGlyphs">200</text>
<line x1="68.50" y1="429.70" x2="71.30" y2="429.70" stroke="#8a8a8a" stroke-width="1"/>
<text x="67.50" y="433.70" font-size="11.2" fill="#1e1e1e" text-anchor="end" textLength="17.38" lengthAdjust="spacingAndGlyphs">400</text>
<line x1="68.50" y1="412.80" x2="71.30" y2="412.80" stroke="#8a8a8a" stroke-width="1"/>
<text x="67.50" y="416.80" font-size="11.2" fill="#1e1e1e" text-anchor="end" textLength="17.38" lengthAdjust="spacingAndGlyphs">600</text>
<line x1="68.50" y1="395.90" x2="71.30" y2="395.90" stroke="#8a8a8a" stroke-width="1"/>
<text x="67.50" y="399.90" font-size="11.2" fill="#1e1e1e" text-anchor="end" textLength="17.38" lengthAdjust="spacingAndGlyphs">800</text>
<line x1="68.50" y1="379.00" x2="71.30" y2="379.00" stroke="#8a8a8a" stroke-width="1"/>
<text x="67.50" y="383.00" font-size="11.2" fill="#1e1e1e" text-anchor="end" textLength="23.17" lengthAdjust="spacingAndGlyphs">1000</text>
<rect x="104.20" y="401.00" width="16.20" height="62.50" fill="#cfcfcf" stroke="#7a7a7a" stroke-width="0.9"/>
<line x1="112.40" y1="389.40" x2="112.40" y2="412.60" stroke="#555" stroke-width="0.9"/>
<polygon points="112.40,387.50 114.40,389.50 112.40,391.50 110.40,389.50" fill="#000"/>
<circle cx="112.40" cy="403.00" r="1.5" fill="#000"/>
<polygon points="112.40,410.22 114.64,413.74 110.16,413.74" fill="#000"/>
<rect x="80.00" y="461.60" width="16.00" height="1.90" fill="#111"/>
<line x1="100.70" y1="463.50" x2="100.70" y2="466.30" stroke="#8a8a8a" stroke-width="1"/>
<text id="B1y" transform="translate(39.50,417.80) rotate(-90)" font-size="11" fill="#1e1e1e" text-anchor="middle" textLength="70.80" lengthAdjust="spacingAndGlyphs">IGF-1 (pg/ml)</text>
<text id="B1ctrl" transform="translate(94.20,475.50) rotate(-45)" font-size="12" fill="#1e1e1e" text-anchor="end">Control</text>
<text id="B1cm" transform="translate(118.40,476.10) rotate(-45)" font-size="12" fill="#1e1e1e" text-anchor="end">CM</text>
<line x1="163.30" y1="383.20" x2="163.30" y2="466.20" stroke="#8a8a8a" stroke-width="1.2"/>
<line x1="163.30" y1="466.20" x2="219.40" y2="466.20" stroke="#8a8a8a" stroke-width="1.2"/>
<line x1="160.50" y1="466.20" x2="163.30" y2="466.20" stroke="#8a8a8a" stroke-width="1"/>
<text x="159.60" y="470.20" font-size="11.2" fill="#1e1e1e" text-anchor="end" textLength="5.79" lengthAdjust="spacingAndGlyphs">0</text>
<line x1="160.50" y1="449.60" x2="163.30" y2="449.60" stroke="#8a8a8a" stroke-width="1"/>
<text x="159.60" y="453.60" font-size="11.2" fill="#1e1e1e" text-anchor="end" textLength="11.59" lengthAdjust="spacingAndGlyphs">20</text>
<line x1="160.50" y1="433.00" x2="163.30" y2="433.00" stroke="#8a8a8a" stroke-width="1"/>
<text x="159.60" y="437.00" font-size="11.2" fill="#1e1e1e" text-anchor="end" textLength="11.59" lengthAdjust="spacingAndGlyphs">40</text>
<line x1="160.50" y1="416.40" x2="163.30" y2="416.40" stroke="#8a8a8a" stroke-width="1"/>
<text x="159.60" y="420.40" font-size="11.2" fill="#1e1e1e" text-anchor="end" textLength="11.59" lengthAdjust="spacingAndGlyphs">60</text>
<line x1="160.50" y1="399.80" x2="163.30" y2="399.80" stroke="#8a8a8a" stroke-width="1"/>
<text x="159.60" y="403.80" font-size="11.2" fill="#1e1e1e" text-anchor="end" textLength="11.59" lengthAdjust="spacingAndGlyphs">80</text>
<line x1="160.50" y1="383.20" x2="163.30" y2="383.20" stroke="#8a8a8a" stroke-width="1"/>
<text x="159.60" y="387.20" font-size="11.2" fill="#1e1e1e" text-anchor="end" textLength="17.38" lengthAdjust="spacingAndGlyphs">100</text>
<rect x="195.40" y="392.70" width="16.40" height="73.50" fill="#cfcfcf" stroke="#7a7a7a" stroke-width="0.9"/>
<line x1="203.00" y1="391.00" x2="203.00" y2="394.00" stroke="#555" stroke-width="0.9"/>
<circle cx="203.00" cy="391.00" r="1.5" fill="#000"/>
<circle cx="203.00" cy="393.30" r="1.5" fill="#000"/>
<rect x="170.90" y="463.20" width="16.40" height="3.00" fill="#111"/>
<line x1="190.50" y1="466.20" x2="190.50" y2="469.00" stroke="#8a8a8a" stroke-width="1"/>
<text id="B2y" transform="translate(142.80,422.40) rotate(-90)" font-size="11" fill="#1e1e1e" text-anchor="middle" textLength="64.90" lengthAdjust="spacingAndGlyphs">Vegf (pg/ml)</text>
<text id="B2ctrl" transform="translate(182.50,480.50) rotate(-45)" font-size="12" fill="#1e1e1e" text-anchor="end">Control</text>
<text id="B2cm" transform="translate(207.20,480.90) rotate(-45)" font-size="12" fill="#1e1e1e" text-anchor="end">CM</text>
<line x1="262.40" y1="383.69" x2="262.40" y2="466.70" stroke="#8a8a8a" stroke-width="1.2"/>
<line x1="262.40" y1="466.70" x2="319.90" y2="466.70" stroke="#8a8a8a" stroke-width="1.2"/>
<line x1="259.60" y1="466.70" x2="262.40" y2="466.70" stroke="#8a8a8a" stroke-width="1"/>
<text x="258.20" y="470.70" font-size="11.2" fill="#1e1e1e" text-anchor="end" textLength="5.79" lengthAdjust="spacingAndGlyphs">0</text>
<line x1="259.60" y1="439.03" x2="262.40" y2="439.03" stroke="#8a8a8a" stroke-width="1"/>
<text x="258.20" y="443.03" font-size="11.2" fill="#1e1e1e" text-anchor="end" textLength="11.59" lengthAdjust="spacingAndGlyphs">10</text>
<line x1="259.60" y1="411.36" x2="262.40" y2="411.36" stroke="#8a8a8a" stroke-width="1"/>
<text x="258.20" y="415.36" font-size="11.2" fill="#1e1e1e" text-anchor="end" textLength="11.59" lengthAdjust="spacingAndGlyphs">20</text>
<line x1="259.60" y1="383.69" x2="262.40" y2="383.69" stroke="#8a8a8a" stroke-width="1"/>
<text x="258.20" y="387.69" font-size="11.2" fill="#1e1e1e" text-anchor="end" textLength="11.59" lengthAdjust="spacingAndGlyphs">30</text>
<rect x="295.40" y="401.50" width="16.30" height="65.20" fill="#cfcfcf" stroke="#7a7a7a" stroke-width="0.9"/>
<line x1="303.50" y1="396.30" x2="303.50" y2="405.80" stroke="#555" stroke-width="0.9"/>
<polygon points="303.40,398.68 305.64,395.16 301.16,395.16" fill="#000"/>
<circle cx="303.40" cy="401.00" r="1.5" fill="#000"/>
<polygon points="303.40,403.70 305.40,405.70 303.40,407.70 301.40,405.70" fill="#000"/>
<rect x="270.00" y="464.40" width="17.20" height="2.30" fill="#111"/>
<line x1="291.90" y1="466.70" x2="291.90" y2="469.50" stroke="#8a8a8a" stroke-width="1"/>
<text id="B3y" transform="translate(243.00,425.40) rotate(-90)" font-size="11" fill="#1e1e1e" text-anchor="middle" textLength="65.50" lengthAdjust="spacingAndGlyphs">HGF (pg/ml)</text>
<text id="B3ctrl" transform="translate(283.30,480.60) rotate(-45)" font-size="12" fill="#1e1e1e" text-anchor="end">Control</text>
<text id="B3cm" transform="translate(307.90,481.70) rotate(-45)" font-size="12" fill="#1e1e1e" text-anchor="end">CM</text>
<line x1="362.20" y1="383.40" x2="362.20" y2="467.40" stroke="#8a8a8a" stroke-width="1.2"/>
<line x1="362.20" y1="467.40" x2="421.80" y2="467.40" stroke="#8a8a8a" stroke-width="1.2"/>
<line x1="359.40" y1="467.40" x2="362.20" y2="467.40" stroke="#8a8a8a" stroke-width="1"/>
<text x="359.00" y="471.40" font-size="11.2" fill="#1e1e1e" text-anchor="end" textLength="5.79" lengthAdjust="spacingAndGlyphs">0</text>
<line x1="359.40" y1="439.40" x2="362.20" y2="439.40" stroke="#8a8a8a" stroke-width="1"/>
<text x="359.00" y="443.40" font-size="11.2" fill="#1e1e1e" text-anchor="end" textLength="5.79" lengthAdjust="spacingAndGlyphs">5</text>
<line x1="359.40" y1="411.40" x2="362.20" y2="411.40" stroke="#8a8a8a" stroke-width="1"/>
<text x="359.00" y="415.40" font-size="11.2" fill="#1e1e1e" text-anchor="end" textLength="11.59" lengthAdjust="spacingAndGlyphs">10</text>
<line x1="359.40" y1="383.40" x2="362.20" y2="383.40" stroke="#8a8a8a" stroke-width="1"/>
<text x="359.00" y="387.40" font-size="11.2" fill="#1e1e1e" text-anchor="end" textLength="11.59" lengthAdjust="spacingAndGlyphs">15</text>
<rect x="396.70" y="403.30" width="16.80" height="64.10" fill="#cfcfcf" stroke="#7a7a7a" stroke-width="0.9"/>
<line x1="405.00" y1="400.80" x2="405.00" y2="406.00" stroke="#555" stroke-width="0.9"/>
<circle cx="405.00" cy="400.90" r="1.5" fill="#000"/>
<circle cx="405.00" cy="403.40" r="1.5" fill="#000"/>
<circle cx="405.00" cy="405.80" r="1.5" fill="#000"/>
<rect x="371.60" y="466.60" width="15.70" height="0.80" fill="#111"/>
<circle cx="379.70" cy="467.00" r="1.5" fill="#000"/>
<line x1="391.50" y1="467.40" x2="391.50" y2="470.20" stroke="#8a8a8a" stroke-width="1"/>
<text id="B4y" transform="translate(345.20,423.40) rotate(-90)" font-size="11" fill="#1e1e1e" text-anchor="middle" textLength="91.00" lengthAdjust="spacingAndGlyphs">Follistatin (pg/ml)</text>
<text id="B4ctrl" transform="translate(387.50,481.40) rotate(-45)" font-size="12" fill="#1e1e1e" text-anchor="end">Control</text>
<text id="B4cm" transform="translate(411.60,482.30) rotate(-45)" font-size="12" fill="#1e1e1e" text-anchor="end">CM</text>
<line x1="462.70" y1="382.62" x2="462.70" y2="467.10" stroke="#8a8a8a" stroke-width="1.2"/>
<line x1="462.70" y1="467.10" x2="520.80" y2="467.10" stroke="#8a8a8a" stroke-width="1.2"/>
<line x1="459.90" y1="467.10" x2="462.70" y2="467.10" stroke="#8a8a8a" stroke-width="1"/>
<text x="458.60" y="471.10" font-size="11.2" fill="#1e1e1e" text-anchor="end" textLength="5.79" lengthAdjust="spacingAndGlyphs">0</text>
<line x1="459.90" y1="445.98" x2="462.70" y2="445.98" stroke="#8a8a8a" stroke-width="1"/>
<text x="458.60" y="449.98" font-size="11.2" fill="#1e1e1e" text-anchor="end" textLength="11.59" lengthAdjust="spacingAndGlyphs">20</text>
<line x1="459.90" y1="424.86" x2="462.70" y2="424.86" stroke="#8a8a8a" stroke-width="1"/>
<text x="458.60" y="428.86" font-size="11.2" fill="#1e1e1e" text-anchor="end" textLength="11.59" lengthAdjust="spacingAndGlyphs">40</text>
<line x1="459.90" y1="403.74" x2="462.70" y2="403.74" stroke="#8a8a8a" stroke-width="1"/>
<text x="458.60" y="407.74" font-size="11.2" fill="#1e1e1e" text-anchor="end" textLength="11.59" lengthAdjust="spacingAndGlyphs">60</text>
<line x1="459.90" y1="382.62" x2="462.70" y2="382.62" stroke="#8a8a8a" stroke-width="1"/>
<text x="458.60" y="386.62" font-size="11.2" fill="#1e1e1e" text-anchor="end" textLength="11.59" lengthAdjust="spacingAndGlyphs">80</text>
<rect x="496.10" y="414.40" width="16.30" height="52.70" fill="#cfcfcf" stroke="#7a7a7a" stroke-width="0.9"/>
<line x1="504.00" y1="391.40" x2="504.00" y2="437.80" stroke="#555" stroke-width="0.9"/>
<polygon points="504.10,389.70 505.60,391.20 504.10,392.70 502.60,391.20" fill="#000"/>
<polygon points="504.10,412.90 505.60,414.40 504.10,415.90 502.60,414.40" fill="#000"/>
<polygon points="504.10,435.90 505.60,437.40 504.10,438.90 502.60,437.40" fill="#000"/>
<circle cx="479.70" cy="467.00" r="1.5" fill="#000"/>
<line x1="492.00" y1="467.10" x2="492.00" y2="469.90" stroke="#8a8a8a" stroke-width="1"/>
<text id="B5y" transform="translate(441.60,425.20) rotate(-90)" font-size="11" fill="#1e1e1e" text-anchor="middle" textLength="78.40" lengthAdjust="spacingAndGlyphs">TGFβ1 (pg/ml)</text>
<text id="B5ctrl" transform="translate(486.50,479.50) rotate(-45)" font-size="12" fill="#1e1e1e" text-anchor="end">Control</text>
<text id="B5cm" transform="translate(511.30,481.00) rotate(-45)" font-size="12" fill="#1e1e1e" text-anchor="end">CM</text>
<text id="C" x="5.00" y="549.40" font-size="11.5" fill="#222" text-anchor="start">C</text>
<defs>
<filter id="bl" x="-50%" y="-50%" width="200%" height="200%"><feGaussianBlur stdDeviation="0.4"/></filter>
<filter id="bl6" x="-50%" y="-50%" width="200%" height="200%"><feGaussianBlur stdDeviation="0.55"/></filter>
<filter id="gb" x="-20%" y="-20%" width="140%" height="140%"><feGaussianBlur stdDeviation="7"/></filter>
<filter id="noise" x="0" y="0" width="100%" height="100%">
  <feTurbulence type="fractalNoise" baseFrequency="0.09" numOctaves="2" seed="3" result="t"/>
  <feColorMatrix type="matrix" values="0 0 0 0 0.5  0 0 0 0 0.5  0 0 0 0 0.5  0.6 0 0 0 -0.25"/>
</filter>
<clipPath id="c1"><rect x="32.6" y="550.0" width="91.6" height="91.3"/></clipPath>
<clipPath id="c2"><rect x="129.6" y="549.6" width="91.4" height="91.6"/></clipPath>
<clipPath id="c3"><rect x="226.0" y="549.6" width="91.4" height="91.6"/></clipPath>
</defs>
<g clip-path="url(#c1)">
<g filter="url(#gb)">
<rect x="-4.04" y="513.48" width="18.82" height="18.76" fill="#2c2c2c"/>
<rect x="14.28" y="513.48" width="18.82" height="18.76" fill="#2c2c2c"/>
<rect x="32.60" y="513.48" width="18.82" height="18.76" fill="#2c2c2c"/>
<rect x="50.92" y="513.48" width="18.82" height="18.76" fill="#363636"/>
<rect x="69.24" y="513.48" width="18.82" height="18.76" fill="#4c4c4c"/>
<rect x="87.56" y="513.48" width="18.82" height="18.76" fill="#666666"/>
<rect x="105.88" y="513.48" width="18.82" height="18.76" fill="#767676"/>
<rect x="124.20" y="513.48" width="18.82" height="18.76" fill="#767676"/>
<rect x="142.52" y="513.48" width="18.82" height="18.76" fill="#767676"/>
<rect x="-4.04" y="531.74" width="18.82" height="18.76" fill="#2c2c2c"/>
<rect x="14.28" y="531.74" width="18.82" height="18.76" fill="#2c2c2c"/>
<rect x="32.60" y="531.74" width="18.82" height="18.76" fill="#2c2c2c"/>
<rect x="50.92" y="531.74" width="18.82" height="18.76" fill="#363636"/>
<rect x="69.24" y="531.74" width="18.82" height="18.76" fill="#4c4c4c"/>
<rect x="87.56" y="531.74" width="18.82" height="18.76" fill="#666666"/>
<rect x="105.88" y="531.74" width="18.82" height="18.76" fill="#767676"/>
<rect x="124.20" y="531.74" width="18.82" height="18.76" fill="#767676"/>
<rect x="142.52" y="531.74" width="18.82" height="18.76" fill="#767676"/>
<rect x="-4.04" y="550.00" width="18.82" height="18.76" fill="#2c2c2c"/>
<rect x="14.28" y="550.00" width="18.82" height="18.76" fill="#2c2c2c"/>
<rect x="32.60" y="550.00" width="18.82" height="18.76" fill="#2c2c2c"/>
<rect x="50.92" y="550.00" width="18.82" height="18.76" fill="#363636"/>
<rect x="69.24" y="550.00" width="18.82" height="18.76" fill="#4c4c4c"/>
<rect x="87.56" y="550.00" width="18.82" height="18.76" fill="#666666"/>
<rect x="105.88" y="550.00" width="18.82" height="18.76" fill="#767676"/>
<rect x="124.20" y="550.00" width="18.82" height="18.76" fill="#767676"/>
<rect x="142.52" y="550.00" width="18.82" height="18.76" fill="#767676"/>
<rect x="-4.04" y="568.26" width="18.82" height="18.76" fill="#2e2e2e"/>
<rect x="14.28" y="568.26" width="18.82" height="18.76" fill="#2e2e2e"/>
<rect x="32.60" y="568.26" width="18.82" height="18.76" fill="#2e2e2e"/>
<rect x="50.92" y="568.26" width="18.82" height="18.76" fill="#3a3a3a"/>
<rect x="69.24" y="568.26" width="18.82" height="18.76" fill="#545454"/>
<rect x="87.56" y="568.26" width="18.82" height="18.76" fill="#6e6e6e"/>
<rect x="105.88" y="568.26" width="18.82" height="18.76" fill="#808080"/>
<rect x="124.20" y="568.26" width="18.82" height="18.76" fill="#808080"/>
<rect x="142.52" y="568.26" width="18.82" height="18.76" fill="#808080"/>
<rect x="-4.04" y="586.52" width="18.82" height="18.76" fill="#2c2c2c"/>
<rect x="14.28" y="586.52" width="18.82" height="18.76" fill="#2c2c2c"/>
<rect x="32.60" y="586.52" width="18.82" height="18.76" fill="#2c2c2c"/>
<rect x="50.92" y="586.52" width="18.82" height="18.76" fill="#404040"/>
<rect x="69.24" y="586.52" width="18.82" height="18.76" fill="#5a5a5a"/>
<rect x="87.56" y="586.52" width="18.82" height="18.76" fill="#727272"/>
<rect x="105.88" y="586.52" width="18.82" height="18.76" fill="#868686"/>
<rect x="124.20" y="586.52" width="18.82" height="18.76" fill="#868686"/>
<rect x="142.52" y="586.52" width="18.82" height="18.76" fill="#868686"/>
<rect x="-4.04" y="604.78" width="18.82" height="18.76" fill="#262626"/>
<rect x="14.28" y="604.78" width="18.82" height="18.76" fill="#262626"/>
<rect x="32.60" y="604.78" width="18.82" height="18.76" fill="#262626"/>
<rect x="50.92" y="604.78" width="18.82" height="18.76" fill="#424242"/>
<rect x="69.24" y="604.78" width="18.82" height="18.76" fill="#5a5a5a"/>
<rect x="87.56" y="604.78" width="18.82" height="18.76" fill="#6e6e6e"/>
<rect x="105.88" y="604.78" width="18.82" height="18.76" fill="#828282"/>
<rect x="124.20" y="604.78" width="18.82" height="18.76" fill="#828282"/>
<rect x="142.52" y="604.78" width="18.82" height="18.76" fill="#828282"/>
<rect x="-4.04" y="623.04" width="18.82" height="18.76" fill="#1c1c1c"/>
<rect x="14.28" y="623.04" width="18.82" height="18.76" fill="#1c1c1c"/>
<rect x="32.60" y="623.04" width="18.82" height="18.76" fill="#1c1c1c"/>
<rect x="50.92" y="623.04" width="18.82" height="18.76" fill="#3a3a3a"/>
<rect x="69.24" y="623.04" width="18.82" height="18.76" fill="#545454"/>
<rect x="87.56" y="623.04" width="18.82" height="18.76" fill="#686868"/>
<rect x="105.88" y="623.04" width="18.82" height="18.76" fill="#787878"/>
<rect x="124.20" y="623.04" width="18.82" height="18.76" fill="#787878"/>
<rect x="142.52" y="623.04" width="18.82" height="18.76" fill="#787878"/>
<rect x="-4.04" y="641.30" width="18.82" height="18.76" fill="#1c1c1c"/>
<rect x="14.28" y="641.30" width="18.82" height="18.76" fill="#1c1c1c"/>
<rect x="32.60" y="641.30" width="18.82" height="18.76" fill="#1c1c1c"/>
<rect x="50.92" y="641.30" width="18.82" height="18.76" fill="#3a3a3a"/>
<rect x="69.24" y="641.30" width="18.82" height="18.76" fill="#545454"/>
<rect x="87.56" y="641.30" width="18.82" height="18.76" fill="#686868"/>
<rect x="105.88" y="641.30" width="18.82" height="18.76" fill="#787878"/>
<rect x="124.20" y="641.30" width="18.82" height="18.76" fill="#787878"/>
<rect x="142.52" y="641.30" width="18.82" height="18.76" fill="#787878"/>
<rect x="-4.04" y="659.56" width="18.82" height="18.76" fill="#1c1c1c"/>
<rect x="14.28" y="659.56" width="18.82" height="18.76" fill="#1c1c1c"/>
<rect x="32.60" y="659.56" width="18.82" height="18.76" fill="#1c1c1c"/>
<rect x="50.92" y="659.56" width="18.82" height="18.76" fill="#3a3a3a"/>
<rect x="69.24" y="659.56" width="18.82" height="18.76" fill="#545454"/>
<rect x="87.56" y="659.56" width="18.82" height="18.76" fill="#686868"/>
<rect x="105.88" y="659.56" width="18.82" height="18.76" fill="#787878"/>
<rect x="124.20" y="659.56" width="18.82" height="18.76" fill="#787878"/>
<rect x="142.52" y="659.56" width="18.82" height="18.76" fill="#787878"/>
</g>
<rect x="32.6" y="550.0" width="91.6" height="91.3" filter="url(#noise)" opacity="0.45"/>
<rect x="32.6" y="550.0" width="1.1" height="91.3" fill="#111" opacity="0.6"/>
<g filter="url(#bl)"><path d="M71.4,549.0 L70.6,562.0 L68.4,574.8 L63.0,585.5 L62.1,594.4" fill="none" stroke="#909090" stroke-width="2.4" stroke-linejoin="round" stroke-linecap="round" opacity="0.22"/>
<path d="M33.6,581.0 L46.0,584.6 L60.4,587.3 L63.0,589.0" fill="none" stroke="#909090" stroke-width="2.4" stroke-linejoin="round" stroke-linecap="round" opacity="0.22"/>
<path d="M62.1,594.4 L68.4,601.6 L72.9,610.5 L78.0,613.5 L83.6,615.9 L88.9,621.2" fill="none" stroke="#909090" stroke-width="2.4" stroke-linejoin="round" stroke-linecap="round" opacity="0.22"/>
<path d="M63.0,585.5 L69.3,585.5 L83.6,584.6 L88.9,589.1 L97.9,598.0 L103.2,606.9 L101.4,614.0 L96.1,617.6 L88.9,621.2" fill="none" stroke="#909090" stroke-width="2.4" stroke-linejoin="round" stroke-linecap="round" opacity="0.22"/>
<path d="M83.6,584.6 L82.7,573.0 L86.3,565.9 L90.7,564.0 L108.6,565.9 L111.3,571.2 L112.1,585.5 L113.9,601.6 L115.7,606.9 L119.3,612.3 L121.1,619.4 L115.7,628.4 L108.6,635.5 L101.4,636.4 L96.1,633.7 L90.7,624.8" fill="none" stroke="#909090" stroke-width="2.4" stroke-linejoin="round" stroke-linecap="round" opacity="0.22"/>
<path d="M101.4,614.0 L112.1,608.7 L115.7,606.9" fill="none" stroke="#909090" stroke-width="2.4" stroke-linejoin="round" stroke-linecap="round" opacity="0.22"/>
<path d="M88.9,621.2 L88.9,631.9 L87.1,642.0" fill="none" stroke="#909090" stroke-width="2.4" stroke-linejoin="round" stroke-linecap="round" opacity="0.22"/>
<path d="M72.0,621.2 L64.0,624.0 L56.8,626.6 L53.2,633.7 L49.6,642.0" fill="none" stroke="#909090" stroke-width="2.4" stroke-linejoin="round" stroke-linecap="round" opacity="0.22"/>
<path d="M33.6,589.0 L34.2,598.0" fill="none" stroke="#909090" stroke-width="2.4" stroke-linejoin="round" stroke-linecap="round" opacity="0.22"/>
<path d="M36.0,557.0 L40.5,551.0" fill="none" stroke="#909090" stroke-width="2.4" stroke-linejoin="round" stroke-linecap="round" opacity="0.22"/>
<path d="M111.3,571.2 L118.0,572.5 L124.5,573.5" fill="none" stroke="#909090" stroke-width="2.4" stroke-linejoin="round" stroke-linecap="round" opacity="0.22"/>
<path d="M71.4,549.0 L70.6,562.0 L68.4,574.8 L63.0,585.5 L62.1,594.4" fill="none" stroke="#b8b8b8" stroke-width="0.9" stroke-linejoin="round" stroke-linecap="round" opacity="0.75" stroke-dasharray="1.2 1.2"/>
<path d="M33.6,581.0 L46.0,584.6 L60.4,587.3 L63.0,589.0" fill="none" stroke="#b8b8b8" stroke-width="0.9" stroke-linejoin="round" stroke-linecap="round" opacity="0.75" stroke-dasharray="1.2 1.2"/>
<path d="M62.1,594.4 L68.4,601.6 L72.9,610.5 L78.0,613.5 L83.6,615.9 L88.9,621.2" fill="none" stroke="#b8b8b8" stroke-width="0.9" stroke-linejoin="round" stroke-linecap="round" opacity="0.75" stroke-dasharray="1.2 1.2"/>
<path d="M63.0,585.5 L69.3,585.5 L83.6,584.6 L88.9,589.1 L97.9,598.0 L103.2,606.9 L101.4,614.0 L96.1,617.6 L88.9,621.2" fill="none" stroke="#b8b8b8" stroke-width="0.9" stroke-linejoin="round" stroke-linecap="round" opacity="0.75" stroke-dasharray="1.2 1.2"/>
<path d="M83.6,584.6 L82.7,573.0 L86.3,565.9 L90.7,564.0 L108.6,565.9 L111.3,571.2 L112.1,585.5 L113.9,601.6 L115.7,606.9 L119.3,612.3 L121.1,619.4 L115.7,628.4 L108.6,635.5 L101.4,636.4 L96.1,633.7 L90.7,624.8" fill="none" stroke="#b8b8b8" stroke-width="0.9" stroke-linejoin="round" stroke-linecap="round" opacity="0.75" stroke-dasharray="1.2 1.2"/>
<path d="M101.4,614.0 L112.1,608.7 L115.7,606.9" fill="none" stroke="#b8b8b8" stroke-width="0.9" stroke-linejoin="round" stroke-linecap="round" opacity="0.75" stroke-dasharray="1.2 1.2"/>
<path d="M88.9,621.2 L88.9,631.9 L87.1,642.0" fill="none" stroke="#b8b8b8" stroke-width="0.9" stroke-linejoin="round" stroke-linecap="round" opacity="0.75" stroke-dasharray="1.2 1.2"/>
<path d="M72.0,621.2 L64.0,624.0 L56.8,626.6 L53.2,633.7 L49.6,642.0" fill="none" stroke="#b8b8b8" stroke-width="0.9" stroke-linejoin="round" stroke-linecap="round" opacity="0.75" stroke-dasharray="1.2 1.2"/>
<path d="M33.6,589.0 L34.2,598.0" fill="none" stroke="#b8b8b8" stroke-width="0.9" stroke-linejoin="round" stroke-linecap="round" opacity="0.75" stroke-dasharray="1.2 1.2"/>
<path d="M36.0,557.0 L40.5,551.0" fill="none" stroke="#b8b8b8" stroke-width="0.9" stroke-linejoin="round" stroke-linecap="round" opacity="0.75" stroke-dasharray="1.2 1.2"/>
<path d="M111.3,571.2 L118.0,572.5 L124.5,573.5" fill="none" stroke="#b8b8b8" stroke-width="0.9" stroke-linejoin="round" stroke-linecap="round" opacity="0.75" stroke-dasharray="1.2 1.2"/>
<circle cx="62.5" cy="588.5" r="1.1" fill="#dcdcdc"/>
<circle cx="62.1" cy="594.4" r="0.9" fill="#dcdcdc"/>
<circle cx="72.9" cy="610.5" r="0.9" fill="#dcdcdc"/>
<circle cx="88.9" cy="621.2" r="1.0" fill="#dcdcdc"/>
<circle cx="88.9" cy="628" r="0.8" fill="#dcdcdc"/>
<circle cx="97.9" cy="598" r="0.8" fill="#dcdcdc"/>
<circle cx="101.4" cy="614" r="1.0" fill="#dcdcdc"/>
<circle cx="112.1" cy="608.7" r="0.8" fill="#dcdcdc"/>
<circle cx="72" cy="621.2" r="1.1" fill="#dcdcdc"/>
<circle cx="69.3" cy="585.5" r="0.9" fill="#dcdcdc"/>
<circle cx="83.6" cy="584.6" r="0.9" fill="#dcdcdc"/>
<circle cx="56.8" cy="626.6" r="0.8" fill="#dcdcdc"/>
<circle cx="111.3" cy="571.2" r="0.8" fill="#dcdcdc"/>
<circle cx="121.1" cy="619.4" r="0.9" fill="#dcdcdc"/>
<circle cx="94" cy="616" r="0.8" fill="#dcdcdc"/>
<circle cx="108.6" cy="635.5" r="0.8" fill="#dcdcdc"/></g>
</g>
<g clip-path="url(#c2)">
<g filter="url(#gb)">
<rect x="93.04" y="512.96" width="18.78" height="18.82" fill="#747474"/>
<rect x="111.32" y="512.96" width="18.78" height="18.82" fill="#747474"/>
<rect x="129.60" y="512.96" width="18.78" height="18.82" fill="#747474"/>
<rect x="147.88" y="512.96" width="18.78" height="18.82" fill="#787878"/>
<rect x="166.16" y="512.96" width="18.78" height="18.82" fill="#7a7a7a"/>
<rect x="184.44" y="512.96" width="18.78" height="18.82" fill="#7e7e7e"/>
<rect x="202.72" y="512.96" width="18.78" height="18.82" fill="#868686"/>
<rect x="221.00" y="512.96" width="18.78" height="18.82" fill="#868686"/>
<rect x="239.28" y="512.96" width="18.78" height="18.82" fill="#868686"/>
<rect x="93.04" y="531.28" width="18.78" height="18.82" fill="#747474"/>
<rect x="111.32" y="531.28" width="18.78" height="18.82" fill="#747474"/>
<rect x="129.60" y="531.28" width="18.78" height="18.82" fill="#747474"/>
<rect x="147.88" y="531.28" width="18.78" height="18.82" fill="#787878"/>
<rect x="166.16" y="531.28" width="18.78" height="18.82" fill="#7a7a7a"/>
<rect x="184.44" y="531.28" width="18.78" height="18.82" fill="#7e7e7e"/>
<rect x="202.72" y="531.28" width="18.78" height="18.82" fill="#868686"/>
<rect x="221.00" y="531.28" width="18.78" height="18.82" fill="#868686"/>
<rect x="239.28" y="531.28" width="18.78" height="18.82" fill="#868686"/>
<rect x="93.04" y="549.60" width="18.78" height="18.82" fill="#747474"/>
<rect x="111.32" y="549.60" width="18.78" height="18.82" fill="#747474"/>
<rect x="129.60" y="549.60" width="18.78" height="18.82" fill="#747474"/>
<rect x="147.88" y="549.60" width="18.78" height="18.82" fill="#787878"/>
<rect x="166.16" y="549.60" width="18.78" height="18.82" fill="#7a7a7a"/>
<rect x="184.44" y="549.60" width="18.78" height="18.82" fill="#7e7e7e"/>
<rect x="202.72" y="549.60" width="18.78" height="18.82" fill="#868686"/>
<rect x="221.00" y="549.60" width="18.78" height="18.82" fill="#868686"/>
<rect x="239.28" y="549.60" width="18.78" height="18.82" fill="#868686"/>
<rect x="93.04" y="567.92" width="18.78" height="18.82" fill="#686868"/>
<rect x="111.32" y="567.92" width="18.78" height="18.82" fill="#686868"/>
<rect x="129.60" y="567.92" width="18.78" height="18.82" fill="#686868"/>
<rect x="147.88" y="567.92" width="18.78" height="18.82" fill="#6c6c6c"/>
<rect x="166.16" y="567.92" width="18.78" height="18.82" fill="#707070"/>
<rect x="184.44" y="567.92" width="18.78" height="18.82" fill="#747474"/>
<rect x="202.72" y="567.92" width="18.78" height="18.82" fill="#808080"/>
<rect x="221.00" y="567.92" width="18.78" height="18.82" fill="#808080"/>
<rect x="239.28" y="567.92" width="18.78" height="18.82" fill="#808080"/>
<rect x="93.04" y="586.24" width="18.78" height="18.82" fill="#626262"/>
<rect x="111.32" y="586.24" width="18.78" height="18.82" fill="#626262"/>
<rect x="129.60" y="586.24" width="18.78" height="18.82" fill="#626262"/>
<rect x="147.88" y="586.24" width="18.78" height="18.82" fill="#686868"/>
<rect x="166.16" y="586.24" width="18.78" height="18.82" fill="#6c6c6c"/>
<rect x="184.44" y="586.24" width="18.78" height="18.82" fill="#727272"/>
<rect x="202.72" y="586.24" width="18.78" height="18.82" fill="#808080"/>
<rect x="221.00" y="586.24" width="18.78" height="18.82" fill="#808080"/>
<rect x="239.28" y="586.24" width="18.78" height="18.82" fill="#808080"/>
<rect x="93.04" y="604.56" width="18.78" height="18.82" fill="#606060"/>
<rect x="111.32" y="604.56" width="18.78" height="18.82" fill="#606060"/>
<rect x="129.60" y="604.56" width="18.78" height="18.82" fill="#606060"/>
<rect x="147.88" y="604.56" width="18.78" height="18.82" fill="#666666"/>
<rect x="166.16" y="604.56" width="18.78" height="18.82" fill="#6a6a6a"/>
<rect x="184.44" y="604.56" width="18.78" height="18.82" fill="#707070"/>
<rect x="202.72" y="604.56" width="18.78" height="18.82" fill="#7e7e7e"/>
<rect x="221.00" y="604.56" width="18.78" height="18.82" fill="#7e7e7e"/>
<rect x="239.28" y="604.56" width="18.78" height="18.82" fill="#7e7e7e"/>
<rect x="93.04" y="622.88" width="18.78" height="18.82" fill="#606060"/>
<rect x="111.32" y="622.88" width="18.78" height="18.82" fill="#606060"/>
<rect x="129.60" y="622.88" width="18.78" height="18.82" fill="#606060"/>
<rect x="147.88" y="622.88" width="18.78" height="18.82" fill="#646464"/>
<rect x="166.16" y="622.88" width="18.78" height="18.82" fill="#686868"/>
<rect x="184.44" y="622.88" width="18.78" height="18.82" fill="#6e6e6e"/>
<rect x="202.72" y="622.88" width="18.78" height="18.82" fill="#7a7a7a"/>
<rect x="221.00" y="622.88" width="18.78" height="18.82" fill="#7a7a7a"/>
<rect x="239.28" y="622.88" width="18.78" height="18.82" fill="#7a7a7a"/>
<rect x="93.04" y="641.20" width="18.78" height="18.82" fill="#606060"/>
<rect x="111.32" y="641.20" width="18.78" height="18.82" fill="#606060"/>
<rect x="129.60" y="641.20" width="18.78" height="18.82" fill="#606060"/>
<rect x="147.88" y="641.20" width="18.78" height="18.82" fill="#646464"/>
<rect x="166.16" y="641.20" width="18.78" height="18.82" fill="#686868"/>
<rect x="184.44" y="641.20" width="18.78" height="18.82" fill="#6e6e6e"/>
<rect x="202.72" y="641.20" width="18.78" height="18.82" fill="#7a7a7a"/>
<rect x="221.00" y="641.20" width="18.78" height="18.82" fill="#7a7a7a"/>
<rect x="239.28" y="641.20" width="18.78" height="18.82" fill="#7a7a7a"/>
<rect x="93.04" y="659.52" width="18.78" height="18.82" fill="#606060"/>
<rect x="111.32" y="659.52" width="18.78" height="18.82" fill="#606060"/>
<rect x="129.60" y="659.52" width="18.78" height="18.82" fill="#606060"/>
<rect x="147.88" y="659.52" width="18.78" height="18.82" fill="#646464"/>
<rect x="166.16" y="659.52" width="18.78" height="18.82" fill="#686868"/>
<rect x="184.44" y="659.52" width="18.78" height="18.82" fill="#6e6e6e"/>
<rect x="202.72" y="659.52" width="18.78" height="18.82" fill="#7a7a7a"/>
<rect x="221.00" y="659.52" width="18.78" height="18.82" fill="#7a7a7a"/>
<rect x="239.28" y="659.52" width="18.78" height="18.82" fill="#7a7a7a"/>
</g>
<rect x="129.6" y="549.6" width="91.4" height="91.6" filter="url(#noise)" opacity="0.25"/>
<g filter="url(#bl6)"><circle cx="184" cy="570" r="1.75" fill="#f4f4f4"/>
<circle cx="160" cy="569" r="1.12" fill="#f4f4f4"/>
<circle cx="175" cy="571" r="1.00" fill="#f4f4f4"/>
<circle cx="165" cy="579" r="1.12" fill="#f4f4f4"/>
<circle cx="182" cy="579" r="1.25" fill="#f4f4f4"/>
<circle cx="175" cy="578" r="1.00" fill="#f4f4f4"/>
<circle cx="198" cy="588" r="1.25" fill="#f4f4f4"/>
<circle cx="144" cy="590" r="1.00" fill="#f4f4f4"/>
<circle cx="176" cy="595" r="1.12" fill="#f4f4f4"/>
<circle cx="195" cy="604" r="1.00" fill="#f4f4f4"/>
<circle cx="140" cy="610" r="1.00" fill="#f4f4f4"/>
<circle cx="155" cy="610" r="1.00" fill="#f4f4f4"/>
<circle cx="195" cy="611" r="1.12" fill="#f4f4f4"/>
<circle cx="200" cy="615" r="1.50" fill="#f4f4f4"/>
<circle cx="184" cy="616" r="1.12" fill="#f4f4f4"/>
<circle cx="180" cy="621" r="1.00" fill="#f4f4f4"/>
<circle cx="158" cy="624" r="1.00" fill="#f4f4f4"/>
<circle cx="208" cy="628" r="1.12" fill="#f4f4f4"/>
<circle cx="168" cy="630" r="1.00" fill="#f4f4f4"/>
<circle cx="142" cy="628" r="0.88" fill="#f4f4f4"/>
<circle cx="185" cy="634" r="1.12" fill="#f4f4f4"/>
<circle cx="216" cy="617" r="1.00" fill="#f4f4f4"/>
<circle cx="142" cy="555" r="0.88" fill="#f4f4f4"/>
<circle cx="216" cy="553" r="1.25" fill="#f4f4f4"/>
<circle cx="214" cy="602" r="0.88" fill="#f4f4f4"/>
<circle cx="145" cy="632" r="0.88" fill="#f4f4f4"/>
<circle cx="182" cy="618" r="1.00" fill="#f4f4f4"/>
<circle cx="202" cy="616" r="1.12" fill="#f4f4f4"/>
<ellipse cx="211" cy="571" rx="4.2" ry="2.2" transform="rotate(35 211 571)" fill="#eee"/>
<path d="M165,577 L166,582 M194,612 L199,616 L201,618 M181,622 L184,618 L187,617" stroke="#e8e8e8" stroke-width="1.3" fill="none" stroke-linecap="round"/></g>
</g>
<g clip-path="url(#c3)">
<g filter="url(#gb)">
<rect x="189.44" y="512.96" width="18.78" height="18.82" fill="#303030"/>
<rect x="207.72" y="512.96" width="18.78" height="18.82" fill="#303030"/>
<rect x="226.00" y="512.96" width="18.78" height="18.82" fill="#303030"/>
<rect x="244.28" y="512.96" width="18.78" height="18.82" fill="#3a3a3a"/>
<rect x="262.56" y="512.96" width="18.78" height="18.82" fill="#484848"/>
<rect x="280.84" y="512.96" width="18.78" height="18.82" fill="#686868"/>
<rect x="299.12" y="512.96" width="18.78" height="18.82" fill="#888888"/>
<rect x="317.40" y="512.96" width="18.78" height="18.82" fill="#888888"/>
<rect x="335.68" y="512.96" width="18.78" height="18.82" fill="#888888"/>
<rect x="189.44" y="531.28" width="18.78" height="18.82" fill="#303030"/>
<rect x="207.72" y="531.28" width="18.78" height="18.82" fill="#303030"/>
<rect x="226.00" y="531.28" width="18.78" height="18.82" fill="#303030"/>
<rect x="244.28" y="531.28" width="18.78" height="18.82" fill="#3a3a3a"/>
<rect x="262.56" y="531.28" width="18.78" height="18.82" fill="#484848"/>
<rect x="280.84" y="531.28" width="18.78" height="18.82" fill="#686868"/>
<rect x="299.12" y="531.28" width="18.78" height="18.82" fill="#888888"/>
<rect x="317.40" y="531.28" width="18.78" height="18.82" fill="#888888"/>
<rect x="335.68" y="531.28" width="18.78" height="18.82" fill="#888888"/>
<rect x="189.44" y="549.60" width="18.78" height="18.82" fill="#303030"/>
<rect x="207.72" y="549.60" width="18.78" height="18.82" fill="#303030"/>
<rect x="226.00" y="549.60" width="18.78" height="18.82" fill="#303030"/>
<rect x="244.28" y="549.60" width="18.78" height="18.82" fill="#3a3a3a"/>
<rect x="262.56" y="549.60" width="18.78" height="18.82" fill="#484848"/>
<rect x="280.84" y="549.60" width="18.78" height="18.82" fill="#686868"/>
<rect x="299.12" y="549.60" width="18.78" height="18.82" fill="#888888"/>
<rect x="317.40" y="549.60" width="18.78" height="18.82" fill="#888888"/>
<rect x="335.68" y="549.60" width="18.78" height="18.82" fill="#888888"/>
<rect x="189.44" y="567.92" width="18.78" height="18.82" fill="#303030"/>
<rect x="207.72" y="567.92" width="18.78" height="18.82" fill="#303030"/>
<rect x="226.00" y="567.92" width="18.78" height="18.82" fill="#303030"/>
<rect x="244.28" y="567.92" width="18.78" height="18.82" fill="#3c3c3c"/>
<rect x="262.56" y="567.92" width="18.78" height="18.82" fill="#4c4c4c"/>
<rect x="280.84" y="567.92" width="18.78" height="18.82" fill="#787878"/>
<rect x="299.12" y="567.92" width="18.78" height="18.82" fill="#a2a2a2"/>
<rect x="317.40" y="567.92" width="18.78" height="18.82" fill="#a2a2a2"/>
<rect x="335.68" y="567.92" width="18.78" height="18.82" fill="#a2a2a2"/>
<rect x="189.44" y="586.24" width="18.78" height="18.82" fill="#303030"/>
<rect x="207.72" y="586.24" width="18.78" height="18.82" fill="#303030"/>
<rect x="226.00" y="586.24" width="18.78" height="18.82" fill="#303030"/>
<rect x="244.28" y="586.24" width="18.78" height="18.82" fill="#3e3e3e"/>
<rect x="262.56" y="586.24" width="18.78" height="18.82" fill="#505050"/>
<rect x="280.84" y="586.24" width="18.78" height="18.82" fill="#888888"/>
<rect x="299.12" y="586.24" width="18.78" height="18.82" fill="#b6b6b6"/>
<rect x="317.40" y="586.24" width="18.78" height="18.82" fill="#b6b6b6"/>
<rect x="335.68" y="586.24" width="18.78" height="18.82" fill="#b6b6b6"/>
<rect x="189.44" y="604.56" width="18.78" height="18.82" fill="#2e2e2e"/>
<rect x="207.72" y="604.56" width="18.78" height="18.82" fill="#2e2e2e"/>
<rect x="226.00" y="604.56" width="18.78" height="18.82" fill="#2e2e2e"/>
<rect x="244.28" y="604.56" width="18.78" height="18.82" fill="#3c3c3c"/>
<rect x="262.56" y="604.56" width="18.78" height="18.82" fill="#505050"/>
<rect x="280.84" y="604.56" width="18.78" height="18.82" fill="#848484"/>
<rect x="299.12" y="604.56" width="18.78" height="18.82" fill="#b2b2b2"/>
<rect x="317.40" y="604.56" width="18.78" height="18.82" fill="#b2b2b2"/>
<rect x="335.68" y="604.56" width="18.78" height="18.82" fill="#b2b2b2"/>
<rect x="189.44" y="622.88" width="18.78" height="18.82" fill="#282828"/>
<rect x="207.72" y="622.88" width="18.78" height="18.82" fill="#282828"/>
<rect x="226.00" y="622.88" width="18.78" height="18.82" fill="#282828"/>
<rect x="244.28" y="622.88" width="18.78" height="18.82" fill="#383838"/>
<rect x="262.56" y="622.88" width="18.78" height="18.82" fill="#4c4c4c"/>
<rect x="280.84" y="622.88" width="18.78" height="18.82" fill="#7c7c7c"/>
<rect x="299.12" y="622.88" width="18.78" height="18.82" fill="#a6a6a6"/>
<rect x="317.40" y="622.88" width="18.78" height="18.82" fill="#a6a6a6"/>
<rect x="335.68" y="622.88" width="18.78" height="18.82" fill="#a6a6a6"/>
<rect x="189.44" y="641.20" width="18.78" height="18.82" fill="#282828"/>
<rect x="207.72" y="641.20" width="18.78" height="18.82" fill="#282828"/>
<rect x="226.00" y="641.20" width="18.78" height="18.82" fill="#282828"/>
<rect x="244.28" y="641.20" width="18.78" height="18.82" fill="#383838"/>
<rect x="262.56" y="641.20" width="18.78" height="18.82" fill="#4c4c4c"/>
<rect x="280.84" y="641.20" width="18.78" height="18.82" fill="#7c7c7c"/>
<rect x="299.12" y="641.20" width="18.78" height="18.82" fill="#a6a6a6"/>
<rect x="317.40" y="641.20" width="18.78" height="18.82" fill="#a6a6a6"/>
<rect x="335.68" y="641.20" width="18.78" height="18.82" fill="#a6a6a6"/>
<rect x="189.44" y="659.52" width="18.78" height="18.82" fill="#282828"/>
<rect x="207.72" y="659.52" width="18.78" height="18.82" fill="#282828"/>
<rect x="226.00" y="659.52" width="18.78" height="18.82" fill="#282828"/>
<rect x="244.28" y="659.52" width="18.78" height="18.82" fill="#383838"/>
<rect x="262.56" y="659.52" width="18.78" height="18.82" fill="#4c4c4c"/>
<rect x="280.84" y="659.52" width="18.78" height="18.82" fill="#7c7c7c"/>
<rect x="299.12" y="659.52" width="18.78" height="18.82" fill="#a6a6a6"/>
<rect x="317.40" y="659.52" width="18.78" height="18.82" fill="#a6a6a6"/>
<rect x="335.68" y="659.52" width="18.78" height="18.82" fill="#a6a6a6"/>
</g>
<rect x="226.0" y="549.6" width="91.4" height="91.6" filter="url(#noise)" opacity="0.3"/>
<g filter="url(#bl)"><path d="M246.5,556.0 L247.0,566.0 L250.0,580.0 L250.2,585.0 L245.6,597.7 L241.0,607.7 L243.8,621.4 L249.3,632.3 L253.8,642.0" fill="none" stroke="#a0a0a0" stroke-width="2.4" stroke-linejoin="round" stroke-linecap="round" opacity="0.25"/>
<path d="M250.2,585.0 L258.4,588.6 L269.3,593.2 L276.5,601.4 L285.6,608.6 L294.7,610.5 L318.0,612.3" fill="none" stroke="#a0a0a0" stroke-width="2.4" stroke-linejoin="round" stroke-linecap="round" opacity="0.25"/>
<path d="M245.6,597.7 L252.9,601.4 L263.8,605.9 L267.5,608.6" fill="none" stroke="#a0a0a0" stroke-width="2.4" stroke-linejoin="round" stroke-linecap="round" opacity="0.25"/>
<path d="M285.6,566.8 L294.7,572.3 L303.8,574.1 L308.4,576.8 L318.0,583.2" fill="none" stroke="#a0a0a0" stroke-width="2.4" stroke-linejoin="round" stroke-linecap="round" opacity="0.25"/>
<path d="M246.5,556.0 L247.0,566.0 L250.0,580.0 L250.2,585.0 L245.6,597.7 L241.0,607.7 L243.8,621.4 L249.3,632.3 L253.8,642.0" fill="none" stroke="#c8c8c8" stroke-width="0.9" stroke-linejoin="round" stroke-linecap="round" opacity="0.8" stroke-dasharray="1.2 1.2"/>
<path d="M250.2,585.0 L258.4,588.6 L269.3,593.2 L276.5,601.4 L285.6,608.6 L294.7,610.5 L318.0,612.3" fill="none" stroke="#c8c8c8" stroke-width="0.9" stroke-linejoin="round" stroke-linecap="round" opacity="0.8" stroke-dasharray="1.2 1.2"/>
<path d="M245.6,597.7 L252.9,601.4 L263.8,605.9 L267.5,608.6" fill="none" stroke="#c8c8c8" stroke-width="0.9" stroke-linejoin="round" stroke-linecap="round" opacity="0.8" stroke-dasharray="1.2 1.2"/>
<path d="M285.6,566.8 L294.7,572.3 L303.8,574.1 L308.4,576.8 L318.0,583.2" fill="none" stroke="#c8c8c8" stroke-width="0.9" stroke-linejoin="round" stroke-linecap="round" opacity="0.8" stroke-dasharray="1.2 1.2"/>
<circle cx="276" cy="616" r="0.9" fill="#eee"/>
<circle cx="288" cy="624" r="1.2" fill="#eee"/>
<circle cx="302" cy="604" r="0.8" fill="#eee"/>
<circle cx="274" cy="634" r="0.8" fill="#eee"/>
<circle cx="258" cy="567" r="0.7" fill="#eee"/>
<circle cx="236" cy="566" r="0.7" fill="#eee"/>
<circle cx="290" cy="622" r="0.8" fill="#eee"/>
<circle cx="233.8" cy="607.7" r="1.1" fill="#eee"/>
<circle cx="286" cy="609" r="1.0" fill="#eee"/>
<circle cx="304" cy="574" r="1.0" fill="#eee"/>
<circle cx="248" cy="593" r="0.9" fill="#eee"/>
<circle cx="244" cy="612" r="0.9" fill="#eee"/></g>
</g>
<text id="cap1" x="52.70" y="561.20" font-size="10.5" fill="#0a0a0a" text-anchor="start" textLength="52.40" lengthAdjust="spacingAndGlyphs">+ve control</text>
<text id="cap2" x="147.00" y="560.20" font-size="10.5" fill="#0a0a0a" text-anchor="start" textLength="51.00" lengthAdjust="spacingAndGlyphs">-ve control</text>
<text id="cap3" x="226.70" y="560.00" font-size="10.5" fill="#0a0a0a" text-anchor="start" textLength="90.00" lengthAdjust="spacingAndGlyphs">Conditioned Media</text>
<line x1="370.50" y1="526.70" x2="370.50" y2="636.20" stroke="#555" stroke-width="1.1"/>
<line x1="370.50" y1="636.20" x2="545.40" y2="636.20" stroke="#555" stroke-width="1.1"/>
<line x1="369.30" y1="636.20" x2="370.50" y2="636.20" stroke="#555" stroke-width="1"/>
<text x="362.40" y="641.05" font-size="11" fill="#1e1e1e" text-anchor="end">0</text>
<line x1="369.30" y1="614.30" x2="370.50" y2="614.30" stroke="#555" stroke-width="1"/>
<text x="362.40" y="619.15" font-size="11" fill="#1e1e1e" text-anchor="end">5</text>
<line x1="369.30" y1="592.40" x2="370.50" y2="592.40" stroke="#555" stroke-width="1"/>
<text x="362.40" y="597.25" font-size="11" fill="#1e1e1e" text-anchor="end">10</text>
<line x1="369.30" y1="570.50" x2="370.50" y2="570.50" stroke="#555" stroke-width="1"/>
<text x="362.40" y="575.35" font-size="11" fill="#1e1e1e" text-anchor="end">15</text>
<line x1="369.30" y1="548.60" x2="370.50" y2="548.60" stroke="#555" stroke-width="1"/>
<text x="362.40" y="553.45" font-size="11" fill="#1e1e1e" text-anchor="end">20</text>
<line x1="369.30" y1="526.70" x2="370.50" y2="526.70" stroke="#555" stroke-width="1"/>
<text x="362.40" y="531.55" font-size="11" fill="#1e1e1e" text-anchor="end">25</text>
<rect x="388.60" y="557.40" width="34.90" height="78.80" fill="#c6c6c6" stroke="#808080" stroke-width="0.9"/>
<line x1="406.05" y1="636.20" x2="406.05" y2="639.20" stroke="#555" stroke-width="1"/>
<rect x="440.90" y="633.80" width="34.90" height="2.40" fill="#c6c6c6" stroke="#808080" stroke-width="0.9"/>
<line x1="458.35" y1="636.20" x2="458.35" y2="639.20" stroke="#555" stroke-width="1"/>
<rect x="493.80" y="612.10" width="35.20" height="24.10" fill="#c6c6c6" stroke="#808080" stroke-width="0.9"/>
<line x1="511.40" y1="636.20" x2="511.40" y2="639.20" stroke="#555" stroke-width="1"/>
<line x1="406.20" y1="553.40" x2="406.20" y2="560.90" stroke="#777" stroke-width="0.8"/>
<line x1="401.70" y1="553.40" x2="410.70" y2="553.40" stroke="#666" stroke-width="0.8"/>
<line x1="401.70" y1="560.90" x2="410.70" y2="560.90" stroke="#666" stroke-width="0.8"/>
<line x1="511.40" y1="609.00" x2="511.40" y2="614.30" stroke="#777" stroke-width="0.8"/>
<line x1="506.90" y1="609.00" x2="515.90" y2="609.00" stroke="#666" stroke-width="0.8"/>
<line x1="506.90" y1="614.30" x2="515.90" y2="614.30" stroke="#666" stroke-width="0.8"/>
<circle cx="406.20" cy="540.40" r="1.7" fill="#000"/>
<circle cx="406.20" cy="544.70" r="1.7" fill="#000"/>
<circle cx="406.20" cy="553.30" r="1.7" fill="#000"/>
<circle cx="406.20" cy="557.60" r="1.7" fill="#000"/>
<circle cx="406.20" cy="561.90" r="1.7" fill="#000"/>
<circle cx="406.20" cy="566.30" r="1.7" fill="#000"/>
<circle cx="406.20" cy="570.90" r="1.7" fill="#000"/>
<circle cx="458.80" cy="631.90" r="1.7" fill="#000"/>
<circle cx="458.80" cy="635.00" r="1.7" fill="#000"/>
<circle cx="458.80" cy="636.80" r="1.7" fill="#000"/>
<circle cx="511.40" cy="596.70" r="1.7" fill="#000"/>
<circle cx="511.40" cy="605.90" r="1.7" fill="#000"/>
<circle cx="511.40" cy="610.30" r="1.7" fill="#000"/>
<circle cx="511.40" cy="614.30" r="1.7" fill="#000"/>
<circle cx="511.40" cy="618.90" r="1.7" fill="#000"/>
<text x="458.7" y="608.6" font-size="11.5" fill="#222" text-anchor="middle" style="font-family:'Liberation Serif',serif">*</text>
<text x="504.6" y="579.2" font-size="11.5" fill="#222" letter-spacing="0.4" style="font-family:'Liberation Serif',serif">*#</text>
<text id="Cy" transform="translate(339.80,588.90) rotate(-90)" font-size="11" fill="#1e1e1e" text-anchor="middle" textLength="148.40" lengthAdjust="spacingAndGlyphs">Total Number of Branch points</text>
<text id="Cl1" transform="translate(407.10,651.10) rotate(-45)" font-size="10.7" fill="#1e1e1e" text-anchor="end">Positive Control</text>
<text id="Cl2" transform="translate(462.50,652.60) rotate(-45)" font-size="10.7" fill="#1e1e1e" text-anchor="end">Negative Control</text>
<text id="Cl3" transform="translate(513.70,653.50) rotate(-45)" font-size="10.7" fill="#1e1e1e" text-anchor="end">Conditioned Media</text>
</svg>
</body></html>
